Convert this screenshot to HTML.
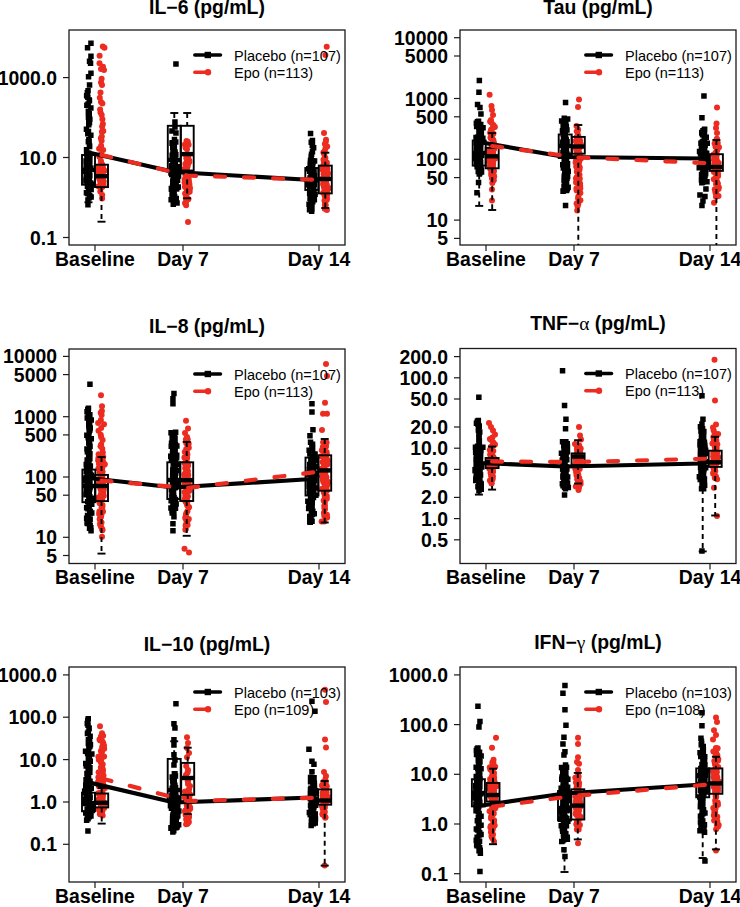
<!DOCTYPE html><html><head><meta charset="utf-8"><style>
html,body{margin:0;padding:0;background:#fff;width:740px;height:907px;overflow:hidden}
svg{display:block}
.ax{font-family:"Liberation Sans",sans-serif;font-weight:bold;font-size:19.4px;fill:#000}
.ti{font-family:"Liberation Sans",sans-serif;font-weight:bold;font-size:19.4px;fill:#000}
.sym{font-family:"Liberation Serif",serif;font-weight:normal}
.lg{font-family:"Liberation Sans",sans-serif;font-size:14.5px;fill:#000}
</style></head><body>
<svg width="740" height="907" viewBox="0 0 740 907">
<rect x="69" y="30" width="276" height="215" fill="none" stroke="#1a1a1a" stroke-width="1.3"/>
<line x1="63" y1="77.6" x2="69" y2="77.6" stroke="#1a1a1a" stroke-width="1.2"/>
<text class="ax" x="57" y="84.6" text-anchor="end">1000.0</text>
<line x1="63" y1="157.5" x2="69" y2="157.5" stroke="#1a1a1a" stroke-width="1.2"/>
<text class="ax" x="57" y="164.5" text-anchor="end">10.0</text>
<line x1="63" y1="237.5" x2="69" y2="237.5" stroke="#1a1a1a" stroke-width="1.2"/>
<text class="ax" x="57" y="244.5" text-anchor="end">0.1</text>
<line x1="95" y1="245" x2="95" y2="251" stroke="#1a1a1a" stroke-width="1.2"/>
<text class="ax" x="95" y="265.5" text-anchor="middle">Baseline</text>
<line x1="183" y1="245" x2="183" y2="251" stroke="#1a1a1a" stroke-width="1.2"/>
<text class="ax" x="183" y="265.5" text-anchor="middle">Day 7</text>
<line x1="319" y1="245" x2="319" y2="251" stroke="#1a1a1a" stroke-width="1.2"/>
<text class="ax" x="319" y="265.5" text-anchor="middle">Day 14</text>
<text class="ti" x="207" y="14" text-anchor="middle">IL−6 (pg/mL)</text>
<path fill="#000" d="M85.3 88.1h5.5v5.5h-5.5zM84.6 89.9h5.5v5.5h-5.5zM83.9 92.9h5.5v5.5h-5.5zM85.1 94.6h5.5v5.5h-5.5zM86.5 97.2h5.5v5.5h-5.5zM86.7 97.9h5.5v5.5h-5.5zM85.4 101.3h5.5v5.5h-5.5zM84.1 102.6h5.5v5.5h-5.5zM88.1 105.2h5.5v5.5h-5.5zM85.6 108.6h5.5v5.5h-5.5zM85.6 111.1h5.5v5.5h-5.5zM86.5 111h5.5v5.5h-5.5zM85.7 114.6h5.5v5.5h-5.5zM87.1 116.6h5.5v5.5h-5.5zM86 119.6h5.5v5.5h-5.5zM86.7 120h5.5v5.5h-5.5zM86 122.1h5.5v5.5h-5.5zM83.7 126.5h5.5v5.5h-5.5zM85.7 128.8h5.5v5.5h-5.5zM85 128.7h5.5v5.5h-5.5zM85.1 131.1h5.5v5.5h-5.5zM88.1 132.6h5.5v5.5h-5.5zM86.1 136.9h5.5v5.5h-5.5zM86.4 138.7h5.5v5.5h-5.5zM85.6 139h5.5v5.5h-5.5zM86.7 142.8h5.5v5.5h-5.5zM86.9 143.8h5.5v5.5h-5.5zM83.8 147h5.5v5.5h-5.5zM84.2 150.4h5.5v5.5h-5.5zM85.9 150.5h5.5v5.5h-5.5zM83.9 151.1h5.5v5.5h-5.5zM87.2 152.2h5.5v5.5h-5.5zM85.4 152.5h5.5v5.5h-5.5zM87.1 155.2h5.5v5.5h-5.5zM85.4 154.2h5.5v5.5h-5.5zM84.2 155h5.5v5.5h-5.5zM84.9 156.7h5.5v5.5h-5.5zM85.8 156.5h5.5v5.5h-5.5zM84.5 156.1h5.5v5.5h-5.5zM83.3 158.3h5.5v5.5h-5.5zM84.4 159.7h5.5v5.5h-5.5zM87.1 159.3h5.5v5.5h-5.5zM84.6 160.6h5.5v5.5h-5.5zM86.1 159.9h5.5v5.5h-5.5zM83.7 161.3h5.5v5.5h-5.5zM84.9 162.2h5.5v5.5h-5.5zM85.2 162.7h5.5v5.5h-5.5zM86.6 162h5.5v5.5h-5.5zM83.4 162.6h5.5v5.5h-5.5zM86.9 165.2h5.5v5.5h-5.5zM84.4 165.9h5.5v5.5h-5.5zM84.2 164.2h5.5v5.5h-5.5zM88.1 165.3h5.5v5.5h-5.5zM83.5 167.4h5.5v5.5h-5.5zM82.9 167.8h5.5v5.5h-5.5zM85.9 166.3h5.5v5.5h-5.5zM82.5 167.9h5.5v5.5h-5.5zM86.2 168.8h5.5v5.5h-5.5zM82.6 168.8h5.5v5.5h-5.5zM84.9 168.9h5.5v5.5h-5.5zM86.7 170.1h5.5v5.5h-5.5zM84.3 172.2h5.5v5.5h-5.5zM86 171.9h5.5v5.5h-5.5zM85.5 172.4h5.5v5.5h-5.5zM87.1 173h5.5v5.5h-5.5zM83.7 172.5h5.5v5.5h-5.5zM86.6 174.6h5.5v5.5h-5.5zM84.6 175.7h5.5v5.5h-5.5zM83.4 175.3h5.5v5.5h-5.5zM84.6 176.9h5.5v5.5h-5.5zM86 175.2h5.5v5.5h-5.5zM86.2 175.9h5.5v5.5h-5.5zM83.2 177.2h5.5v5.5h-5.5zM83.1 178.3h5.5v5.5h-5.5zM85.4 178.1h5.5v5.5h-5.5zM86.6 179.8h5.5v5.5h-5.5zM88.8 181.6h5.5v5.5h-5.5zM87.9 180.9h5.5v5.5h-5.5zM87.9 180.3h5.5v5.5h-5.5zM85.7 180.5h5.5v5.5h-5.5zM84.7 183.6h5.5v5.5h-5.5zM86.4 183.2h5.5v5.5h-5.5zM85.9 184.1h5.5v5.5h-5.5zM86.4 186.5h5.5v5.5h-5.5zM85.8 188.2h5.5v5.5h-5.5zM88.4 186.7h5.5v5.5h-5.5zM86 188.8h5.5v5.5h-5.5zM83.7 190.1h5.5v5.5h-5.5zM84.9 190.8h5.5v5.5h-5.5zM86.9 193.1h5.5v5.5h-5.5zM87.1 193.7h5.5v5.5h-5.5zM86.5 195h5.5v5.5h-5.5zM88.4 194.2h5.5v5.5h-5.5zM85.2 197.3h5.5v5.5h-5.5zM88.2 40.6h5.5v5.5h-5.5zM84.8 45.1h5.5v5.5h-5.5zM88.2 53.5h5.5v5.5h-5.5zM86.8 58.5h5.5v5.5h-5.5zM87.8 60.5h5.5v5.5h-5.5zM88.2 70.5h5.5v5.5h-5.5zM85.8 74h5.5v5.5h-5.5zM86.8 82.3h5.5v5.5h-5.5zM85.2 201.9h5.5v5.5h-5.5z"/>
<path fill="#000" d="M171.7 136.7h5.5v5.5h-5.5zM169.6 140.1h5.5v5.5h-5.5zM173 139.3h5.5v5.5h-5.5zM171.5 141.7h5.5v5.5h-5.5zM169.3 140.5h5.5v5.5h-5.5zM171.2 142.5h5.5v5.5h-5.5zM170 144.2h5.5v5.5h-5.5zM170 143.3h5.5v5.5h-5.5zM170.2 146.9h5.5v5.5h-5.5zM171.6 145.3h5.5v5.5h-5.5zM170.5 147.2h5.5v5.5h-5.5zM171.2 148.5h5.5v5.5h-5.5zM172.4 151h5.5v5.5h-5.5zM172.3 149.3h5.5v5.5h-5.5zM173.1 151.9h5.5v5.5h-5.5zM170.2 152.8h5.5v5.5h-5.5zM169.4 152.4h5.5v5.5h-5.5zM170.2 156.1h5.5v5.5h-5.5zM172.3 155.2h5.5v5.5h-5.5zM170.9 156.5h5.5v5.5h-5.5zM171.1 157.2h5.5v5.5h-5.5zM172.5 158.7h5.5v5.5h-5.5zM170.2 158.5h5.5v5.5h-5.5zM172.6 161.6h5.5v5.5h-5.5zM172.3 162.6h5.5v5.5h-5.5zM169.1 163.1h5.5v5.5h-5.5zM173.4 164.1h5.5v5.5h-5.5zM171.6 164.2h5.5v5.5h-5.5zM169.8 164.6h5.5v5.5h-5.5zM174.9 164h5.5v5.5h-5.5zM168.8 163.8h5.5v5.5h-5.5zM172.4 166h5.5v5.5h-5.5zM173 167.4h5.5v5.5h-5.5zM172.5 165.4h5.5v5.5h-5.5zM170.3 166.1h5.5v5.5h-5.5zM170.9 169h5.5v5.5h-5.5zM170.1 169.1h5.5v5.5h-5.5zM174.7 169.4h5.5v5.5h-5.5zM168.2 170.2h5.5v5.5h-5.5zM171.9 169.7h5.5v5.5h-5.5zM174.6 170.7h5.5v5.5h-5.5zM173.4 171.1h5.5v5.5h-5.5zM173.6 169.9h5.5v5.5h-5.5zM169 171.8h5.5v5.5h-5.5zM170.8 170.9h5.5v5.5h-5.5zM173.3 172h5.5v5.5h-5.5zM171.6 172.5h5.5v5.5h-5.5zM171 173.2h5.5v5.5h-5.5zM172.4 172.9h5.5v5.5h-5.5zM175.8 173.3h5.5v5.5h-5.5zM172.1 174.3h5.5v5.5h-5.5zM173 175.5h5.5v5.5h-5.5zM170.5 176.8h5.5v5.5h-5.5zM174.8 177.4h5.5v5.5h-5.5zM170.2 177.9h5.5v5.5h-5.5zM171.3 177.1h5.5v5.5h-5.5zM173.1 176.7h5.5v5.5h-5.5zM172.3 180h5.5v5.5h-5.5zM174.1 177.6h5.5v5.5h-5.5zM170 179.6h5.5v5.5h-5.5zM173.3 179.5h5.5v5.5h-5.5zM173.4 180h5.5v5.5h-5.5zM171.1 181.2h5.5v5.5h-5.5zM172.9 180.4h5.5v5.5h-5.5zM172.2 183.1h5.5v5.5h-5.5zM169.9 183.7h5.5v5.5h-5.5zM175.6 184.2h5.5v5.5h-5.5zM172.2 183.1h5.5v5.5h-5.5zM174.4 184.6h5.5v5.5h-5.5zM174 186h5.5v5.5h-5.5zM173.1 186.3h5.5v5.5h-5.5zM173.7 185.2h5.5v5.5h-5.5zM168.7 186.4h5.5v5.5h-5.5zM168.6 185.8h5.5v5.5h-5.5zM168.8 186.3h5.5v5.5h-5.5zM171.2 188.8h5.5v5.5h-5.5zM170.4 190.2h5.5v5.5h-5.5zM169.5 188.7h5.5v5.5h-5.5zM171.4 192h5.5v5.5h-5.5zM169.3 192.6h5.5v5.5h-5.5zM171.5 194.2h5.5v5.5h-5.5zM171.9 194h5.5v5.5h-5.5zM173.5 195.8h5.5v5.5h-5.5zM168.4 196.9h5.5v5.5h-5.5zM172.4 195.8h5.5v5.5h-5.5zM173.1 198.8h5.5v5.5h-5.5zM171.8 199.1h5.5v5.5h-5.5zM174.3 200.2h5.5v5.5h-5.5zM170.5 201.4h5.5v5.5h-5.5zM173.2 61.2h5.5v5.5h-5.5zM172.2 119.2h5.5v5.5h-5.5zM172.2 124.2h5.5v5.5h-5.5zM169.2 128.2h5.5v5.5h-5.5zM173.2 130.2h5.5v5.5h-5.5z"/>
<path fill="#000" d="M309.7 137.7h5.5v5.5h-5.5zM308.5 139.4h5.5v5.5h-5.5zM309.5 142.6h5.5v5.5h-5.5zM309.7 143h5.5v5.5h-5.5zM310.9 145h5.5v5.5h-5.5zM309.7 149.1h5.5v5.5h-5.5zM308.8 151.5h5.5v5.5h-5.5zM308.4 153.7h5.5v5.5h-5.5zM308.4 155.7h5.5v5.5h-5.5zM307.8 157.4h5.5v5.5h-5.5zM311.8 158.2h5.5v5.5h-5.5zM308.6 158.6h5.5v5.5h-5.5zM310.1 158.1h5.5v5.5h-5.5zM307.9 160.7h5.5v5.5h-5.5zM310.2 159.9h5.5v5.5h-5.5zM307.6 159.5h5.5v5.5h-5.5zM307.4 162.5h5.5v5.5h-5.5zM307.9 160.6h5.5v5.5h-5.5zM307.5 161.5h5.5v5.5h-5.5zM309.7 162.8h5.5v5.5h-5.5zM308.9 162.4h5.5v5.5h-5.5zM309 164.8h5.5v5.5h-5.5zM309.8 164.4h5.5v5.5h-5.5zM309.4 165.8h5.5v5.5h-5.5zM309.8 166h5.5v5.5h-5.5zM306 166.1h5.5v5.5h-5.5zM307.9 166.8h5.5v5.5h-5.5zM309.4 166.5h5.5v5.5h-5.5zM306.8 168.5h5.5v5.5h-5.5zM309.2 169.1h5.5v5.5h-5.5zM311.3 167.8h5.5v5.5h-5.5zM309.8 170.6h5.5v5.5h-5.5zM311.1 171.7h5.5v5.5h-5.5zM310.8 172.3h5.5v5.5h-5.5zM309.4 170.2h5.5v5.5h-5.5zM309.5 170.7h5.5v5.5h-5.5zM311.6 173.1h5.5v5.5h-5.5zM308.2 172.3h5.5v5.5h-5.5zM310 175h5.5v5.5h-5.5zM308.5 173.1h5.5v5.5h-5.5zM310.3 176.1h5.5v5.5h-5.5zM307.5 175.8h5.5v5.5h-5.5zM307.3 175.2h5.5v5.5h-5.5zM308.5 177.2h5.5v5.5h-5.5zM312.4 176.9h5.5v5.5h-5.5zM307 179.4h5.5v5.5h-5.5zM309.8 177.5h5.5v5.5h-5.5zM309.7 178.1h5.5v5.5h-5.5zM307.4 179.9h5.5v5.5h-5.5zM310.3 179.9h5.5v5.5h-5.5zM305.8 181.9h5.5v5.5h-5.5zM309.2 181.3h5.5v5.5h-5.5zM311.5 181.4h5.5v5.5h-5.5zM308.6 183.1h5.5v5.5h-5.5zM310.8 183.5h5.5v5.5h-5.5zM309.9 184h5.5v5.5h-5.5zM310 185.7h5.5v5.5h-5.5zM308.6 184.1h5.5v5.5h-5.5zM307.9 186.9h5.5v5.5h-5.5zM308.9 186.3h5.5v5.5h-5.5zM311.1 186.3h5.5v5.5h-5.5zM310.5 188.1h5.5v5.5h-5.5zM307 186.8h5.5v5.5h-5.5zM308.3 189.3h5.5v5.5h-5.5zM307.8 190.3h5.5v5.5h-5.5zM309.2 190.8h5.5v5.5h-5.5zM310 191.2h5.5v5.5h-5.5zM306.9 190.4h5.5v5.5h-5.5zM308.1 192.2h5.5v5.5h-5.5zM312.4 191.6h5.5v5.5h-5.5zM307.6 192h5.5v5.5h-5.5zM309.4 194.1h5.5v5.5h-5.5zM309.6 192.7h5.5v5.5h-5.5zM310.2 195.5h5.5v5.5h-5.5zM308.6 193.8h5.5v5.5h-5.5zM307.3 195.4h5.5v5.5h-5.5zM310.2 195.2h5.5v5.5h-5.5zM308.2 197.1h5.5v5.5h-5.5zM311.6 197h5.5v5.5h-5.5zM310 199h5.5v5.5h-5.5zM309.8 197.7h5.5v5.5h-5.5zM308.1 200.5h5.5v5.5h-5.5zM308.9 199.2h5.5v5.5h-5.5zM309 199.9h5.5v5.5h-5.5zM308.2 201.4h5.5v5.5h-5.5zM306.3 201.5h5.5v5.5h-5.5zM309.2 202.4h5.5v5.5h-5.5zM308.8 203.2h5.5v5.5h-5.5zM307 203.2h5.5v5.5h-5.5zM309.2 206.2h5.5v5.5h-5.5zM308.6 204.8h5.5v5.5h-5.5zM307.7 206.4h5.5v5.5h-5.5zM307 206.7h5.5v5.5h-5.5zM306.8 207.1h5.5v5.5h-5.5zM308.9 208.5h5.5v5.5h-5.5zM307.8 130.8h5.5v5.5h-5.5z"/>
<g fill="#EC2C20"><circle cx="100.5" cy="92.4" r="3"/><circle cx="99.8" cy="97.7" r="3"/><circle cx="101" cy="102" r="3"/><circle cx="102.4" cy="103.4" r="3"/><circle cx="100.1" cy="109.4" r="3"/><circle cx="100.5" cy="112.5" r="3"/><circle cx="101.7" cy="115" r="3"/><circle cx="102.4" cy="119.2" r="3"/><circle cx="102.9" cy="124.1" r="3"/><circle cx="102.1" cy="126.5" r="3"/><circle cx="103.3" cy="131" r="3"/><circle cx="101.9" cy="131.7" r="3"/><circle cx="101.8" cy="136.5" r="3"/><circle cx="100.9" cy="138.3" r="3"/><circle cx="101.6" cy="140.7" r="3"/><circle cx="101.1" cy="145.7" r="3"/><circle cx="99.1" cy="148.8" r="3"/><circle cx="103.2" cy="150.1" r="3"/><circle cx="101.3" cy="153.9" r="3"/><circle cx="99.4" cy="156.8" r="3"/><circle cx="100.9" cy="160.7" r="3"/><circle cx="101.2" cy="163.1" r="3"/><circle cx="102.4" cy="164.8" r="3"/><circle cx="101.3" cy="166.8" r="3"/><circle cx="100.7" cy="165.9" r="3"/><circle cx="102.2" cy="165.6" r="3"/><circle cx="102.6" cy="166.8" r="3"/><circle cx="102.2" cy="167.5" r="3"/><circle cx="98.9" cy="166.4" r="3"/><circle cx="103" cy="168.6" r="3"/><circle cx="98.7" cy="169.2" r="3"/><circle cx="99.2" cy="169.3" r="3"/><circle cx="102.4" cy="169.5" r="3"/><circle cx="102.5" cy="170.9" r="3"/><circle cx="98.5" cy="169.4" r="3"/><circle cx="101.1" cy="170.2" r="3"/><circle cx="102.7" cy="169.6" r="3"/><circle cx="99.2" cy="171.2" r="3"/><circle cx="104.2" cy="170.9" r="3"/><circle cx="104.4" cy="170.6" r="3"/><circle cx="102.2" cy="173.3" r="3"/><circle cx="98.7" cy="173.7" r="3"/><circle cx="100.1" cy="172.8" r="3"/><circle cx="102.2" cy="175" r="3"/><circle cx="101" cy="174" r="3"/><circle cx="100.9" cy="175.1" r="3"/><circle cx="102.4" cy="174.4" r="3"/><circle cx="99.9" cy="174.3" r="3"/><circle cx="100.2" cy="174.3" r="3"/><circle cx="100.4" cy="176.2" r="3"/><circle cx="101.7" cy="175" r="3"/><circle cx="102.3" cy="175.7" r="3"/><circle cx="102.2" cy="177.5" r="3"/><circle cx="101.1" cy="178.2" r="3"/><circle cx="99.1" cy="177.7" r="3"/><circle cx="100.8" cy="179.7" r="3"/><circle cx="101" cy="179.7" r="3"/><circle cx="102.2" cy="179.5" r="3"/><circle cx="102.1" cy="181" r="3"/><circle cx="99.4" cy="178.9" r="3"/><circle cx="103.4" cy="180.5" r="3"/><circle cx="100.5" cy="181.2" r="3"/><circle cx="102.7" cy="182.1" r="3"/><circle cx="102.8" cy="181.8" r="3"/><circle cx="100.4" cy="181.3" r="3"/><circle cx="103.6" cy="181.8" r="3"/><circle cx="101.3" cy="183.1" r="3"/><circle cx="101.7" cy="182" r="3"/><circle cx="103.2" cy="183.2" r="3"/><circle cx="101.6" cy="185.2" r="3"/><circle cx="103.6" cy="185.3" r="3"/><circle cx="100.7" cy="183.9" r="3"/><circle cx="98.5" cy="186.2" r="3"/><circle cx="102.1" cy="186.9" r="3"/><circle cx="102" cy="187" r="3"/><circle cx="100.9" cy="184.9" r="3"/><circle cx="100.4" cy="187.2" r="3"/><circle cx="100.4" cy="187.4" r="3"/><circle cx="100.3" cy="191.5" r="3"/><circle cx="102.2" cy="195" r="3"/><circle cx="102.1" cy="198.4" r="3"/><circle cx="102.8" cy="46.4" r="3"/><circle cx="104.5" cy="47.8" r="3"/><circle cx="99.6" cy="55.8" r="3"/><circle cx="99.5" cy="63.3" r="3"/><circle cx="103" cy="66.8" r="3"/><circle cx="101" cy="69" r="3"/><circle cx="104" cy="69.9" r="3"/><circle cx="101.6" cy="78.7" r="3"/><circle cx="101" cy="82.6" r="3"/><circle cx="102" cy="85" r="3"/></g>
<g fill="#EC2C20"><circle cx="186.5" cy="141" r="3"/><circle cx="187.8" cy="141.8" r="3"/><circle cx="187" cy="143.1" r="3"/><circle cx="188.6" cy="144.7" r="3"/><circle cx="184.9" cy="144.6" r="3"/><circle cx="185.7" cy="147.4" r="3"/><circle cx="185.7" cy="147.7" r="3"/><circle cx="187" cy="149.2" r="3"/><circle cx="187.3" cy="154.2" r="3"/><circle cx="185.9" cy="154.9" r="3"/><circle cx="186.4" cy="158.4" r="3"/><circle cx="188.2" cy="157" r="3"/><circle cx="189.2" cy="160.4" r="3"/><circle cx="186.8" cy="158.6" r="3"/><circle cx="189.3" cy="162.1" r="3"/><circle cx="186.7" cy="162.2" r="3"/><circle cx="185.3" cy="163.9" r="3"/><circle cx="187.4" cy="163" r="3"/><circle cx="187.9" cy="164.3" r="3"/><circle cx="187.6" cy="166.6" r="3"/><circle cx="184.2" cy="169" r="3"/><circle cx="186.6" cy="171.7" r="3"/><circle cx="187" cy="170.2" r="3"/><circle cx="188.8" cy="172.8" r="3"/><circle cx="184.9" cy="171.7" r="3"/><circle cx="186.2" cy="174.9" r="3"/><circle cx="187.3" cy="174.2" r="3"/><circle cx="188.5" cy="173.9" r="3"/><circle cx="185.5" cy="175.5" r="3"/><circle cx="187.4" cy="177.4" r="3"/><circle cx="188.5" cy="177.7" r="3"/><circle cx="186.9" cy="179.1" r="3"/><circle cx="185.4" cy="179.4" r="3"/><circle cx="187" cy="178.3" r="3"/><circle cx="188.8" cy="180.3" r="3"/><circle cx="184.7" cy="179.6" r="3"/><circle cx="185.5" cy="181.9" r="3"/><circle cx="185.8" cy="181.1" r="3"/><circle cx="184.6" cy="182.6" r="3"/><circle cx="187.6" cy="184" r="3"/><circle cx="189.2" cy="182.9" r="3"/><circle cx="187.5" cy="185.2" r="3"/><circle cx="188.1" cy="184.6" r="3"/><circle cx="189.3" cy="184.2" r="3"/><circle cx="185.2" cy="186.3" r="3"/><circle cx="189.4" cy="186.1" r="3"/><circle cx="185" cy="187.1" r="3"/><circle cx="190" cy="188.2" r="3"/><circle cx="187.2" cy="190.3" r="3"/><circle cx="187" cy="190.9" r="3"/><circle cx="189.7" cy="191.7" r="3"/><circle cx="188" cy="191.9" r="3"/><circle cx="185.1" cy="193.4" r="3"/><circle cx="187.2" cy="192.9" r="3"/><circle cx="186.4" cy="194.5" r="3"/><circle cx="185.8" cy="197.9" r="3"/><circle cx="188" cy="199.1" r="3"/><circle cx="186.5" cy="200.6" r="3"/><circle cx="188.3" cy="199.3" r="3"/><circle cx="185.2" cy="203.2" r="3"/><circle cx="185.3" cy="202.9" r="3"/><circle cx="186.1" cy="205.3" r="3"/><circle cx="188" cy="222" r="3"/></g>
<g fill="#EC2C20"><circle cx="326" cy="139.8" r="3"/><circle cx="325.8" cy="141.7" r="3"/><circle cx="324.9" cy="143.9" r="3"/><circle cx="327.2" cy="146.6" r="3"/><circle cx="325.4" cy="148.5" r="3"/><circle cx="324.5" cy="151.4" r="3"/><circle cx="324.5" cy="151.5" r="3"/><circle cx="323.4" cy="152.5" r="3"/><circle cx="324.3" cy="154.6" r="3"/><circle cx="325.4" cy="158" r="3"/><circle cx="323.9" cy="159.5" r="3"/><circle cx="323.5" cy="159.7" r="3"/><circle cx="326.8" cy="162.6" r="3"/><circle cx="324" cy="162.6" r="3"/><circle cx="326.3" cy="163.5" r="3"/><circle cx="326.5" cy="166.4" r="3"/><circle cx="324.4" cy="167" r="3"/><circle cx="323.5" cy="165.1" r="3"/><circle cx="322.6" cy="167.4" r="3"/><circle cx="327.1" cy="168.2" r="3"/><circle cx="327.2" cy="169.3" r="3"/><circle cx="325.3" cy="168" r="3"/><circle cx="325.1" cy="168.9" r="3"/><circle cx="322.5" cy="169.8" r="3"/><circle cx="325.6" cy="171.1" r="3"/><circle cx="325.7" cy="169.7" r="3"/><circle cx="326.9" cy="171.3" r="3"/><circle cx="324.9" cy="170.8" r="3"/><circle cx="327.9" cy="173.1" r="3"/><circle cx="323.5" cy="174.1" r="3"/><circle cx="327.5" cy="172.9" r="3"/><circle cx="324.2" cy="174.5" r="3"/><circle cx="325.3" cy="175.8" r="3"/><circle cx="324.4" cy="174.1" r="3"/><circle cx="324.8" cy="177" r="3"/><circle cx="327.6" cy="175.1" r="3"/><circle cx="325.3" cy="176.4" r="3"/><circle cx="325.1" cy="176.2" r="3"/><circle cx="322.5" cy="178.8" r="3"/><circle cx="324.5" cy="178.2" r="3"/><circle cx="323.5" cy="178.2" r="3"/><circle cx="323.8" cy="178.5" r="3"/><circle cx="323.1" cy="180.5" r="3"/><circle cx="326.3" cy="179.5" r="3"/><circle cx="324.1" cy="180.6" r="3"/><circle cx="325.3" cy="182" r="3"/><circle cx="325.9" cy="182.5" r="3"/><circle cx="323.1" cy="184" r="3"/><circle cx="325.8" cy="184.6" r="3"/><circle cx="323.7" cy="184.1" r="3"/><circle cx="326.7" cy="184.4" r="3"/><circle cx="326.2" cy="186.5" r="3"/><circle cx="324.3" cy="186.2" r="3"/><circle cx="323.7" cy="186.1" r="3"/><circle cx="328.5" cy="188.4" r="3"/><circle cx="324.1" cy="187.8" r="3"/><circle cx="328.1" cy="187.6" r="3"/><circle cx="325.3" cy="189.7" r="3"/><circle cx="327.4" cy="190.1" r="3"/><circle cx="326.8" cy="191.3" r="3"/><circle cx="326.6" cy="190.8" r="3"/><circle cx="325.7" cy="190.9" r="3"/><circle cx="325" cy="193" r="3"/><circle cx="323.2" cy="192.7" r="3"/><circle cx="326.6" cy="191.6" r="3"/><circle cx="325.3" cy="192.8" r="3"/><circle cx="325.3" cy="193.7" r="3"/><circle cx="327.1" cy="194.4" r="3"/><circle cx="324.6" cy="195.5" r="3"/><circle cx="325.3" cy="198.4" r="3"/><circle cx="326.9" cy="197.7" r="3"/><circle cx="326.9" cy="199.8" r="3"/><circle cx="324.5" cy="200.7" r="3"/><circle cx="325.4" cy="202.1" r="3"/><circle cx="325.4" cy="204.4" r="3"/><circle cx="325" cy="203.8" r="3"/><circle cx="325.1" cy="205.6" r="3"/><circle cx="325.6" cy="205.6" r="3"/><circle cx="324.7" cy="208.7" r="3"/><circle cx="326.9" cy="210.1" r="3"/><circle cx="326.7" cy="46.8" r="3"/><circle cx="325.4" cy="54.9" r="3"/><circle cx="324" cy="133" r="3"/></g>
<rect x="82" y="155" width="13" height="29.7" fill="none" stroke="#000" stroke-width="1.9"/>
<line x1="82" y1="170" x2="95" y2="170" stroke="#000" stroke-width="4.4"/>
<line x1="88.5" y1="184.7" x2="88.5" y2="202.3" stroke="#000" stroke-width="1.9" stroke-dasharray="5 4"/>
<line x1="84.5" y1="202.3" x2="92.5" y2="202.3" stroke="#000" stroke-width="1.9"/>
<rect x="95" y="164.7" width="13" height="22.4" fill="none" stroke="#000" stroke-width="1.9"/>
<line x1="95" y1="176.2" x2="108" y2="176.2" stroke="#000" stroke-width="4.4"/>
<line x1="101.5" y1="187.1" x2="101.5" y2="221.7" stroke="#000" stroke-width="1.9" stroke-dasharray="5 4"/>
<line x1="97.5" y1="221.7" x2="105.5" y2="221.7" stroke="#000" stroke-width="1.9"/>
<rect x="167.8" y="125.8" width="13" height="46.2" fill="none" stroke="#000" stroke-width="1.9"/>
<line x1="167.8" y1="160" x2="180.8" y2="160" stroke="#000" stroke-width="4.4"/>
<line x1="174.3" y1="113" x2="174.3" y2="125.8" stroke="#000" stroke-width="1.9" stroke-dasharray="5 4"/>
<line x1="170.3" y1="113" x2="178.3" y2="113" stroke="#000" stroke-width="1.9"/>
<rect x="180.7" y="125.8" width="13" height="44.7" fill="none" stroke="#000" stroke-width="1.9"/>
<line x1="180.7" y1="154.1" x2="193.7" y2="154.1" stroke="#000" stroke-width="4.4"/>
<line x1="187.2" y1="113" x2="187.2" y2="125.8" stroke="#000" stroke-width="1.9" stroke-dasharray="5 4"/>
<line x1="183.2" y1="113" x2="191.2" y2="113" stroke="#000" stroke-width="1.9"/>
<line x1="187.2" y1="170.5" x2="187.2" y2="198.3" stroke="#000" stroke-width="1.9" stroke-dasharray="5 4"/>
<line x1="183.2" y1="198.3" x2="191.2" y2="198.3" stroke="#000" stroke-width="1.9"/>
<rect x="305.3" y="168" width="13" height="22" fill="none" stroke="#000" stroke-width="1.9"/>
<line x1="305.3" y1="180" x2="318.3" y2="180" stroke="#000" stroke-width="4.4"/>
<rect x="318.8" y="165.6" width="13" height="27.8" fill="none" stroke="#000" stroke-width="1.9"/>
<line x1="318.8" y1="179" x2="331.8" y2="179" stroke="#000" stroke-width="4.4"/>
<line x1="325.3" y1="152.7" x2="325.3" y2="165.6" stroke="#000" stroke-width="1.9" stroke-dasharray="5 4"/>
<line x1="321.3" y1="152.7" x2="329.3" y2="152.7" stroke="#000" stroke-width="1.9"/>
<line x1="325.3" y1="193.4" x2="325.3" y2="208" stroke="#000" stroke-width="1.9" stroke-dasharray="5 4"/>
<line x1="321.3" y1="208" x2="329.3" y2="208" stroke="#000" stroke-width="1.9"/>
<polyline points="88.5,152.5 174.3,172 311.8,180" fill="none" stroke="#000" stroke-width="4.2" stroke-linejoin="round"/>
<polyline points="101.5,155 187.2,175.5 325.3,180" fill="none" stroke="#EC2C20" stroke-width="4.2" stroke-linecap="round" stroke-dasharray="10 19"/>
<line x1="194.8" y1="55" x2="220.5" y2="55" stroke="#000" stroke-width="3.5" stroke-linecap="round"/>
<rect x="204.6" y="51.8" width="6.4" height="6.4" fill="#000"/>
<line x1="194.8" y1="72.3" x2="208" y2="72.3" stroke="#EC2C20" stroke-width="3.5" stroke-linecap="round"/>
<circle cx="208" cy="72.3" r="3.2" fill="#EC2C20"/>
<text class="lg" x="234" y="60.8">Placebo (n=107)</text>
<text class="lg" x="234" y="77.9">Epo (n=113)</text>
<rect x="460" y="30" width="276" height="215" fill="none" stroke="#1a1a1a" stroke-width="1.3"/>
<line x1="454" y1="37.7" x2="460" y2="37.7" stroke="#1a1a1a" stroke-width="1.2"/>
<text class="ax" x="448" y="44.7" text-anchor="end">10000</text>
<line x1="454" y1="56" x2="460" y2="56" stroke="#1a1a1a" stroke-width="1.2"/>
<text class="ax" x="448" y="63" text-anchor="end">5000</text>
<line x1="454" y1="98.5" x2="460" y2="98.5" stroke="#1a1a1a" stroke-width="1.2"/>
<text class="ax" x="448" y="105.5" text-anchor="end">1000</text>
<line x1="454" y1="116.8" x2="460" y2="116.8" stroke="#1a1a1a" stroke-width="1.2"/>
<text class="ax" x="448" y="123.8" text-anchor="end">500</text>
<line x1="454" y1="159.3" x2="460" y2="159.3" stroke="#1a1a1a" stroke-width="1.2"/>
<text class="ax" x="448" y="166.3" text-anchor="end">100</text>
<line x1="454" y1="177.6" x2="460" y2="177.6" stroke="#1a1a1a" stroke-width="1.2"/>
<text class="ax" x="448" y="184.6" text-anchor="end">50</text>
<line x1="454" y1="220.1" x2="460" y2="220.1" stroke="#1a1a1a" stroke-width="1.2"/>
<text class="ax" x="448" y="227.1" text-anchor="end">10</text>
<line x1="454" y1="238.4" x2="460" y2="238.4" stroke="#1a1a1a" stroke-width="1.2"/>
<text class="ax" x="448" y="245.4" text-anchor="end">5</text>
<line x1="486" y1="245" x2="486" y2="251" stroke="#1a1a1a" stroke-width="1.2"/>
<text class="ax" x="486" y="265.5" text-anchor="middle">Baseline</text>
<line x1="574" y1="245" x2="574" y2="251" stroke="#1a1a1a" stroke-width="1.2"/>
<text class="ax" x="574" y="265.5" text-anchor="middle">Day 7</text>
<line x1="710" y1="245" x2="710" y2="251" stroke="#1a1a1a" stroke-width="1.2"/>
<text class="ax" x="710" y="265.5" text-anchor="middle">Day 14</text>
<text class="ti" x="598" y="13.8" text-anchor="middle">Tau (pg/mL)</text>
<path fill="#000" d="M475.8 118.4h5.5v5.5h-5.5zM474.7 118.9h5.5v5.5h-5.5zM473.6 120.6h5.5v5.5h-5.5zM475.4 121.1h5.5v5.5h-5.5zM477.7 122.3h5.5v5.5h-5.5zM478 121.8h5.5v5.5h-5.5zM475.9 123.9h5.5v5.5h-5.5zM473.9 123.8h5.5v5.5h-5.5zM480.3 125.1h5.5v5.5h-5.5zM476.2 127.2h5.5v5.5h-5.5zM476.2 128.4h5.5v5.5h-5.5zM477.7 127h5.5v5.5h-5.5zM476.3 129.3h5.5v5.5h-5.5zM478.6 130h5.5v5.5h-5.5zM476.9 131.7h5.5v5.5h-5.5zM477.9 130.8h5.5v5.5h-5.5zM476.9 131.6h5.5v5.5h-5.5zM473.3 134.7h5.5v5.5h-5.5zM476.4 135.7h5.5v5.5h-5.5zM475.2 134.3h5.5v5.5h-5.5zM475.5 135.4h5.5v5.5h-5.5zM480.1 135.6h5.5v5.5h-5.5zM477 138.4h5.5v5.5h-5.5zM477.4 138.6h5.5v5.5h-5.5zM476.3 137.2h5.5v5.5h-5.5zM478 139.4h5.5v5.5h-5.5zM478.3 138.7h5.5v5.5h-5.5zM473.4 140.3h5.5v5.5h-5.5zM474 142h5.5v5.5h-5.5zM476.7 140.5h5.5v5.5h-5.5zM474.4 140.2h5.5v5.5h-5.5zM478.1 141.2h5.5v5.5h-5.5zM476.1 141.5h5.5v5.5h-5.5zM477.9 144.1h5.5v5.5h-5.5zM476.1 143h5.5v5.5h-5.5zM474.7 143.8h5.5v5.5h-5.5zM475.5 145.3h5.5v5.5h-5.5zM476.5 145h5.5v5.5h-5.5zM475.1 144.5h5.5v5.5h-5.5zM473.8 146.7h5.5v5.5h-5.5zM474.9 148.1h5.5v5.5h-5.5zM477.9 147.5h5.5v5.5h-5.5zM475.2 148.8h5.5v5.5h-5.5zM476.8 148h5.5v5.5h-5.5zM474.2 149.3h5.5v5.5h-5.5zM475.6 150.1h5.5v5.5h-5.5zM475.9 150.5h5.5v5.5h-5.5zM477.3 149.8h5.5v5.5h-5.5zM473.9 150.3h5.5v5.5h-5.5zM477.7 152.8h5.5v5.5h-5.5zM475 153.4h5.5v5.5h-5.5zM474.8 151.7h5.5v5.5h-5.5zM479 152.7h5.5v5.5h-5.5zM473.9 154.7h5.5v5.5h-5.5zM473.4 155h5.5v5.5h-5.5zM476.7 153.4h5.5v5.5h-5.5zM472.9 155h5.5v5.5h-5.5zM477 155.8h5.5v5.5h-5.5zM473 155.7h5.5v5.5h-5.5zM475.5 155.7h5.5v5.5h-5.5zM477.5 156.8h5.5v5.5h-5.5zM474.9 158.9h5.5v5.5h-5.5zM476.7 158.5h5.5v5.5h-5.5zM476.2 158.9h5.5v5.5h-5.5zM477.9 159.4h5.5v5.5h-5.5zM474.2 158.9h5.5v5.5h-5.5zM477.3 160.9h5.5v5.5h-5.5zM475.1 161.9h5.5v5.5h-5.5zM473.9 161.3h5.5v5.5h-5.5zM475.2 162.9h5.5v5.5h-5.5zM476.7 161.1h5.5v5.5h-5.5zM476.9 161.8h5.5v5.5h-5.5zM474.5 163h5.5v5.5h-5.5zM474.4 164.1h5.5v5.5h-5.5zM476.2 163.8h5.5v5.5h-5.5zM477.1 165.5h5.5v5.5h-5.5zM478.8 167.2h5.5v5.5h-5.5zM478.1 166.5h5.5v5.5h-5.5zM478.1 165.8h5.5v5.5h-5.5zM476.4 165.9h5.5v5.5h-5.5zM475.5 168.8h5.5v5.5h-5.5zM477.1 167.8h5.5v5.5h-5.5zM476.6 168.2h5.5v5.5h-5.5zM477.1 170.1h5.5v5.5h-5.5zM476.5 171.3h5.5v5.5h-5.5zM478.8 169.3h5.5v5.5h-5.5zM476.7 170.9h5.5v5.5h-5.5zM476.6 77.7h5.5v5.5h-5.5zM476.2 89.5h5.5v5.5h-5.5zM474.8 101.8h5.5v5.5h-5.5zM477.2 104.8h5.5v5.5h-5.5zM478.2 111.2h5.5v5.5h-5.5zM475.8 179.7h5.5v5.5h-5.5zM474.2 189.9h5.5v5.5h-5.5z"/>
<path fill="#000" d="M564.9 116.3h5.5v5.5h-5.5zM561.5 115.5h5.5v5.5h-5.5zM558.9 118.3h5.5v5.5h-5.5zM563.1 119.6h5.5v5.5h-5.5zM563 120.2h5.5v5.5h-5.5zM561.8 118.7h5.5v5.5h-5.5zM561.1 121.5h5.5v5.5h-5.5zM560.5 120.8h5.5v5.5h-5.5zM560.4 122.6h5.5v5.5h-5.5zM563.6 123.8h5.5v5.5h-5.5zM563.5 124.9h5.5v5.5h-5.5zM562.6 124.7h5.5v5.5h-5.5zM560.1 128h5.5v5.5h-5.5zM564.2 127.2h5.5v5.5h-5.5zM562.4 129.5h5.5v5.5h-5.5zM559.7 128.2h5.5v5.5h-5.5zM562 130.2h5.5v5.5h-5.5zM560.5 131.8h5.5v5.5h-5.5zM560.5 130.9h5.5v5.5h-5.5zM560.8 134.5h5.5v5.5h-5.5zM562.5 132.8h5.5v5.5h-5.5zM561.1 134.7h5.5v5.5h-5.5zM562 135.8h5.5v5.5h-5.5zM563.5 138.3h5.5v5.5h-5.5zM563.4 136.5h5.5v5.5h-5.5zM564.3 139.1h5.5v5.5h-5.5zM560.7 139.9h5.5v5.5h-5.5zM559.7 139.4h5.5v5.5h-5.5zM560.8 143.1h5.5v5.5h-5.5zM563.4 142.1h5.5v5.5h-5.5zM561.7 143.4h5.5v5.5h-5.5zM561.9 144h5.5v5.5h-5.5zM563.7 145.5h5.5v5.5h-5.5zM560.8 145.2h5.5v5.5h-5.5zM563.7 148.2h5.5v5.5h-5.5zM563.3 149.2h5.5v5.5h-5.5zM560.2 149.8h5.5v5.5h-5.5zM564.1 151.3h5.5v5.5h-5.5zM562.5 151.8h5.5v5.5h-5.5zM560.8 152.6h5.5v5.5h-5.5zM565.5 152.5h5.5v5.5h-5.5zM559.9 152.8h5.5v5.5h-5.5zM563.2 155.4h5.5v5.5h-5.5zM563.8 157.2h5.5v5.5h-5.5zM563.3 155.7h5.5v5.5h-5.5zM561.5 156.7h5.5v5.5h-5.5zM562 159.9h5.5v5.5h-5.5zM561.4 160.4h5.5v5.5h-5.5zM564.8 161h5.5v5.5h-5.5zM560 162h5.5v5.5h-5.5zM562.7 161.9h5.5v5.5h-5.5zM564.7 163.2h5.5v5.5h-5.5zM563.8 163.9h5.5v5.5h-5.5zM563.9 163h5.5v5.5h-5.5zM560.6 165.2h5.5v5.5h-5.5zM561.9 164.6h5.5v5.5h-5.5zM563.8 165.9h5.5v5.5h-5.5zM562.5 166.7h5.5v5.5h-5.5zM562 167.7h5.5v5.5h-5.5zM563.1 167.7h5.5v5.5h-5.5zM565.5 168.5h5.5v5.5h-5.5zM562.8 169.8h5.5v5.5h-5.5zM563.5 171.3h5.5v5.5h-5.5zM561.7 172.8h5.5v5.5h-5.5zM564.9 173.8h5.5v5.5h-5.5zM561.4 174.5h5.5v5.5h-5.5zM562.3 174h5.5v5.5h-5.5zM563.6 173.9h5.5v5.5h-5.5zM563 177.5h5.5v5.5h-5.5zM564.3 175.4h5.5v5.5h-5.5zM561.3 177.7h5.5v5.5h-5.5zM563.7 177.9h5.5v5.5h-5.5zM563.8 178.7h5.5v5.5h-5.5zM562.1 180.2h5.5v5.5h-5.5zM563.4 179.8h5.5v5.5h-5.5zM562.9 182.8h5.5v5.5h-5.5zM561.3 183.7h5.5v5.5h-5.5zM565.4 184.4h5.5v5.5h-5.5zM562.9 183.6h5.5v5.5h-5.5zM564.6 185.5h5.5v5.5h-5.5zM564.2 187.1h5.5v5.5h-5.5zM563.6 187.7h5.5v5.5h-5.5zM564.1 187h5.5v5.5h-5.5zM560.4 188.5h5.5v5.5h-5.5zM560.3 188.2h5.5v5.5h-5.5zM562.8 99.8h5.5v5.5h-5.5zM562.8 202.8h5.5v5.5h-5.5z"/>
<path fill="#000" d="M701.6 126.9h5.5v5.5h-5.5zM700.2 128.1h5.5v5.5h-5.5zM701.9 126.6h5.5v5.5h-5.5zM699 130.2h5.5v5.5h-5.5zM699.1 129.7h5.5v5.5h-5.5zM699.8 131.8h5.5v5.5h-5.5zM701.7 131.3h5.5v5.5h-5.5zM700.1 131.9h5.5v5.5h-5.5zM701.5 134.1h5.5v5.5h-5.5zM701.8 133.6h5.5v5.5h-5.5zM703.5 134.5h5.5v5.5h-5.5zM701.8 137.6h5.5v5.5h-5.5zM700.3 138.8h5.5v5.5h-5.5zM699.4 139.6h5.5v5.5h-5.5zM699.4 140.2h5.5v5.5h-5.5zM698.2 140.5h5.5v5.5h-5.5zM704.5 140.6h5.5v5.5h-5.5zM700.2 141h5.5v5.5h-5.5zM702.3 140.5h5.5v5.5h-5.5zM699.3 143.2h5.5v5.5h-5.5zM702.4 142.4h5.5v5.5h-5.5zM698.9 142h5.5v5.5h-5.5zM698.7 145h5.5v5.5h-5.5zM699.3 143.2h5.5v5.5h-5.5zM698.7 144h5.5v5.5h-5.5zM701.7 145.3h5.5v5.5h-5.5zM700.6 145h5.5v5.5h-5.5zM700.8 147.4h5.5v5.5h-5.5zM701.9 147h5.5v5.5h-5.5zM701.3 148.4h5.5v5.5h-5.5zM701.8 148.6h5.5v5.5h-5.5zM696.8 148.8h5.5v5.5h-5.5zM699.3 149.5h5.5v5.5h-5.5zM701.3 149.2h5.5v5.5h-5.5zM697.8 151.2h5.5v5.5h-5.5zM701 151.8h5.5v5.5h-5.5zM703.9 150.6h5.5v5.5h-5.5zM701.9 153.4h5.5v5.5h-5.5zM703.6 154.5h5.5v5.5h-5.5zM703.2 155.1h5.5v5.5h-5.5zM701.3 153h5.5v5.5h-5.5zM701.5 153.5h5.5v5.5h-5.5zM704.2 155.9h5.5v5.5h-5.5zM699.7 155.2h5.5v5.5h-5.5zM702.2 157.9h5.5v5.5h-5.5zM700.1 156h5.5v5.5h-5.5zM702.5 159h5.5v5.5h-5.5zM698.8 158.7h5.5v5.5h-5.5zM698.5 158.1h5.5v5.5h-5.5zM700.1 160.2h5.5v5.5h-5.5zM705.3 159.9h5.5v5.5h-5.5zM698.1 162.4h5.5v5.5h-5.5zM701.9 160.5h5.5v5.5h-5.5zM701.7 161.1h5.5v5.5h-5.5zM698.6 162.9h5.5v5.5h-5.5zM702.5 163h5.5v5.5h-5.5zM696.5 165h5.5v5.5h-5.5zM701.1 164.3h5.5v5.5h-5.5zM704.1 164.5h5.5v5.5h-5.5zM700.2 166.2h5.5v5.5h-5.5zM703.2 166.7h5.5v5.5h-5.5zM701.9 167.1h5.5v5.5h-5.5zM701.8 169h5.5v5.5h-5.5zM700.4 167.7h5.5v5.5h-5.5zM699.7 170.9h5.5v5.5h-5.5zM700.7 170.6h5.5v5.5h-5.5zM702.9 170.9h5.5v5.5h-5.5zM702.3 173h5.5v5.5h-5.5zM698.8 172.1h5.5v5.5h-5.5zM700.1 174.9h5.5v5.5h-5.5zM699.6 176.2h5.5v5.5h-5.5zM701 177h5.5v5.5h-5.5zM701.8 177.7h5.5v5.5h-5.5zM698.7 177.3h5.5v5.5h-5.5zM699.9 179.4h5.5v5.5h-5.5zM704.2 179.1h5.5v5.5h-5.5zM699.1 179.9h5.5v5.5h-5.5zM701.2 93.2h5.5v5.5h-5.5zM699.2 115h5.5v5.5h-5.5zM703.2 186.2h5.5v5.5h-5.5zM697.2 192.2h5.5v5.5h-5.5zM702.2 193.7h5.5v5.5h-5.5zM700.2 198.2h5.5v5.5h-5.5zM699.2 202.8h5.5v5.5h-5.5z"/>
<g fill="#EC2C20"><circle cx="490.1" cy="121.4" r="3"/><circle cx="491.4" cy="122.4" r="3"/><circle cx="493.3" cy="125.1" r="3"/><circle cx="493.6" cy="125.9" r="3"/><circle cx="493" cy="127.5" r="3"/><circle cx="494.9" cy="127" r="3"/><circle cx="491.6" cy="130.4" r="3"/><circle cx="491" cy="129.7" r="3"/><circle cx="490.1" cy="132.7" r="3"/><circle cx="491.6" cy="134.7" r="3"/><circle cx="493.3" cy="133.7" r="3"/><circle cx="490.5" cy="137.4" r="3"/><circle cx="490.9" cy="138.2" r="3"/><circle cx="492.4" cy="138.4" r="3"/><circle cx="493.4" cy="140.3" r="3"/><circle cx="494" cy="142.9" r="3"/><circle cx="492.8" cy="143.3" r="3"/><circle cx="494.2" cy="146" r="3"/><circle cx="492.6" cy="145" r="3"/><circle cx="492.5" cy="148" r="3"/><circle cx="491.5" cy="147.7" r="3"/><circle cx="492.3" cy="147.4" r="3"/><circle cx="491.7" cy="149.8" r="3"/><circle cx="489.3" cy="150.3" r="3"/><circle cx="494.2" cy="149" r="3"/><circle cx="492" cy="150.1" r="3"/><circle cx="489.7" cy="150.3" r="3"/><circle cx="491.5" cy="151.6" r="3"/><circle cx="491.9" cy="151.5" r="3"/><circle cx="493.1" cy="151.8" r="3"/><circle cx="492" cy="153.9" r="3"/><circle cx="491.4" cy="153" r="3"/><circle cx="492.9" cy="152.7" r="3"/><circle cx="493.3" cy="154" r="3"/><circle cx="492.9" cy="154.7" r="3"/><circle cx="489.6" cy="153.7" r="3"/><circle cx="493.7" cy="156" r="3"/><circle cx="489.4" cy="156.6" r="3"/><circle cx="489.9" cy="156.7" r="3"/><circle cx="493.1" cy="156.9" r="3"/><circle cx="493.2" cy="158.5" r="3"/><circle cx="489.2" cy="157" r="3"/><circle cx="491.8" cy="157.8" r="3"/><circle cx="493.4" cy="157.2" r="3"/><circle cx="489.9" cy="158.9" r="3"/><circle cx="494.9" cy="158.6" r="3"/><circle cx="495.1" cy="158.4" r="3"/><circle cx="492.9" cy="161.1" r="3"/><circle cx="489.4" cy="161.6" r="3"/><circle cx="490.8" cy="160.7" r="3"/><circle cx="492.9" cy="162.9" r="3"/><circle cx="491.7" cy="162" r="3"/><circle cx="491.6" cy="163.2" r="3"/><circle cx="493.1" cy="162.5" r="3"/><circle cx="490.6" cy="162.5" r="3"/><circle cx="490.9" cy="162.5" r="3"/><circle cx="491.1" cy="164.4" r="3"/><circle cx="492.4" cy="163.2" r="3"/><circle cx="493" cy="164" r="3"/><circle cx="492.9" cy="165.9" r="3"/><circle cx="491.8" cy="166.6" r="3"/><circle cx="489.8" cy="166.1" r="3"/><circle cx="491.5" cy="168.2" r="3"/><circle cx="491.7" cy="168.2" r="3"/><circle cx="492.9" cy="168" r="3"/><circle cx="492.7" cy="170" r="3"/><circle cx="490.2" cy="168.7" r="3"/><circle cx="494" cy="171.1" r="3"/><circle cx="491.3" cy="172.6" r="3"/><circle cx="493.3" cy="174.3" r="3"/><circle cx="493.4" cy="174.8" r="3"/><circle cx="491.2" cy="175.1" r="3"/><circle cx="494.2" cy="176.4" r="3"/><circle cx="492" cy="178.5" r="3"/><circle cx="492.4" cy="178.2" r="3"/><circle cx="493.8" cy="180.2" r="3"/><circle cx="492.3" cy="183" r="3"/><circle cx="489.6" cy="94.7" r="3"/><circle cx="491.5" cy="105.9" r="3"/><circle cx="492" cy="110" r="3"/><circle cx="493" cy="115" r="3"/><circle cx="491" cy="120" r="3"/><circle cx="492" cy="189.6" r="3"/><circle cx="492" cy="200.4" r="3"/></g>
<g fill="#EC2C20"><circle cx="576.5" cy="125.9" r="3"/><circle cx="578.1" cy="129.6" r="3"/><circle cx="577.5" cy="131.9" r="3"/><circle cx="576.8" cy="131.2" r="3"/><circle cx="578.2" cy="135.4" r="3"/><circle cx="576.7" cy="136.9" r="3"/><circle cx="578.3" cy="138.9" r="3"/><circle cx="578.6" cy="138.5" r="3"/><circle cx="580" cy="140.2" r="3"/><circle cx="575.6" cy="141.2" r="3"/><circle cx="579" cy="139.9" r="3"/><circle cx="579.6" cy="142.7" r="3"/><circle cx="578.5" cy="142.8" r="3"/><circle cx="580.7" cy="143.9" r="3"/><circle cx="577.4" cy="144.9" r="3"/><circle cx="577.5" cy="144.6" r="3"/><circle cx="579" cy="145" r="3"/><circle cx="578.1" cy="146.1" r="3"/><circle cx="579.9" cy="147.4" r="3"/><circle cx="575.5" cy="147" r="3"/><circle cx="576.5" cy="149.5" r="3"/><circle cx="576.5" cy="149.5" r="3"/><circle cx="578" cy="150.8" r="3"/><circle cx="578.4" cy="150.6" r="3"/><circle cx="576.7" cy="151.2" r="3"/><circle cx="577.4" cy="154.7" r="3"/><circle cx="579.5" cy="153.3" r="3"/><circle cx="580.7" cy="156.8" r="3"/><circle cx="577.8" cy="155.1" r="3"/><circle cx="580.8" cy="158.7" r="3"/><circle cx="577.7" cy="158.9" r="3"/><circle cx="576" cy="160.7" r="3"/><circle cx="578.6" cy="160" r="3"/><circle cx="579.2" cy="161.4" r="3"/><circle cx="578.7" cy="163.8" r="3"/><circle cx="575.6" cy="162.4" r="3"/><circle cx="577.8" cy="165.5" r="3"/><circle cx="578.1" cy="164.3" r="3"/><circle cx="579.7" cy="167.3" r="3"/><circle cx="576.2" cy="166.6" r="3"/><circle cx="577.4" cy="170.1" r="3"/><circle cx="578.4" cy="169.9" r="3"/><circle cx="579.5" cy="169.8" r="3"/><circle cx="576.8" cy="171.8" r="3"/><circle cx="578.5" cy="174.1" r="3"/><circle cx="579.5" cy="174.7" r="3"/><circle cx="578.1" cy="176.5" r="3"/><circle cx="576.7" cy="177.2" r="3"/><circle cx="578.1" cy="176.5" r="3"/><circle cx="579.8" cy="178.8" r="3"/><circle cx="576" cy="178.5" r="3"/><circle cx="576.8" cy="181.1" r="3"/><circle cx="577" cy="180.7" r="3"/><circle cx="576" cy="182.6" r="3"/><circle cx="578.7" cy="184.4" r="3"/><circle cx="580.1" cy="183.6" r="3"/><circle cx="578.6" cy="186.2" r="3"/><circle cx="579.1" cy="186" r="3"/><circle cx="580.2" cy="186" r="3"/><circle cx="576.4" cy="188.4" r="3"/><circle cx="580.3" cy="188.6" r="3"/><circle cx="576.7" cy="190.4" r="3"/><circle cx="580.4" cy="192.9" r="3"/><circle cx="578.3" cy="196.4" r="3"/><circle cx="578.1" cy="198.4" r="3"/><circle cx="580.4" cy="200.3" r="3"/><circle cx="578.9" cy="201.3" r="3"/><circle cx="576.6" cy="203.6" r="3"/><circle cx="578.3" cy="203.9" r="3"/><circle cx="577.6" cy="206.2" r="3"/><circle cx="577.2" cy="210.4" r="3"/><circle cx="579" cy="99.4" r="3"/><circle cx="578" cy="107" r="3"/></g>
<g fill="#EC2C20"><circle cx="716.7" cy="139.5" r="3"/><circle cx="716.9" cy="138.8" r="3"/><circle cx="717.6" cy="142.4" r="3"/><circle cx="715.9" cy="141.3" r="3"/><circle cx="714.6" cy="143.6" r="3"/><circle cx="717.5" cy="144.1" r="3"/><circle cx="715.5" cy="146.7" r="3"/><circle cx="719" cy="147.3" r="3"/><circle cx="717.3" cy="150" r="3"/><circle cx="717.2" cy="149.4" r="3"/><circle cx="715.4" cy="152.9" r="3"/><circle cx="716.2" cy="152.3" r="3"/><circle cx="716.3" cy="153.3" r="3"/><circle cx="715.5" cy="154.7" r="3"/><circle cx="713.4" cy="154.8" r="3"/><circle cx="716.6" cy="155.6" r="3"/><circle cx="716.1" cy="156.3" r="3"/><circle cx="714.3" cy="156.3" r="3"/><circle cx="716.5" cy="159.1" r="3"/><circle cx="715.9" cy="157.6" r="3"/><circle cx="714.9" cy="159.2" r="3"/><circle cx="714.2" cy="159.4" r="3"/><circle cx="714" cy="159.8" r="3"/><circle cx="716.2" cy="161.1" r="3"/><circle cx="717.2" cy="161.7" r="3"/><circle cx="716.9" cy="161.7" r="3"/><circle cx="715.9" cy="162.1" r="3"/><circle cx="718.7" cy="163" r="3"/><circle cx="716.6" cy="163.1" r="3"/><circle cx="715.4" cy="164.5" r="3"/><circle cx="715.5" cy="163.7" r="3"/><circle cx="714.2" cy="163.8" r="3"/><circle cx="715.2" cy="165" r="3"/><circle cx="716.5" cy="167.5" r="3"/><circle cx="714.7" cy="168" r="3"/><circle cx="714.2" cy="167.2" r="3"/><circle cx="718.2" cy="169.3" r="3"/><circle cx="714.9" cy="168.3" r="3"/><circle cx="717.7" cy="168.3" r="3"/><circle cx="717.6" cy="170.7" r="3"/><circle cx="715.5" cy="171.4" r="3"/><circle cx="714.6" cy="169.4" r="3"/><circle cx="713.9" cy="172.1" r="3"/><circle cx="718.1" cy="174" r="3"/><circle cx="718.1" cy="176" r="3"/><circle cx="716.4" cy="175.6" r="3"/><circle cx="716.2" cy="177.4" r="3"/><circle cx="713.8" cy="179.3" r="3"/><circle cx="716.6" cy="181.6" r="3"/><circle cx="716.8" cy="181.1" r="3"/><circle cx="717.9" cy="183.6" r="3"/><circle cx="716" cy="184.1" r="3"/><circle cx="718.8" cy="187.3" r="3"/><circle cx="714.8" cy="189.2" r="3"/><circle cx="718.5" cy="188.9" r="3"/><circle cx="715.4" cy="191.5" r="3"/><circle cx="716.4" cy="193.7" r="3"/><circle cx="715.6" cy="193" r="3"/><circle cx="716" cy="196.8" r="3"/><circle cx="718.5" cy="195.9" r="3"/><circle cx="717" cy="107.6" r="3"/><circle cx="716.5" cy="123.6" r="3"/><circle cx="716" cy="128" r="3"/><circle cx="717" cy="133" r="3"/><circle cx="714" cy="202.7" r="3"/></g>
<rect x="472.7" y="140.5" width="13" height="25.1" fill="none" stroke="#000" stroke-width="1.9"/>
<line x1="472.7" y1="153" x2="485.7" y2="153" stroke="#000" stroke-width="4.4"/>
<line x1="479.2" y1="165.6" x2="479.2" y2="205.9" stroke="#000" stroke-width="1.9" stroke-dasharray="5 4"/>
<line x1="475.2" y1="205.9" x2="483.2" y2="205.9" stroke="#000" stroke-width="1.9"/>
<rect x="485.7" y="147.8" width="13" height="20.5" fill="none" stroke="#000" stroke-width="1.9"/>
<line x1="485.7" y1="156.3" x2="498.7" y2="156.3" stroke="#000" stroke-width="4.4"/>
<line x1="492.2" y1="133.1" x2="492.2" y2="147.8" stroke="#000" stroke-width="1.9" stroke-dasharray="5 4"/>
<line x1="488.2" y1="133.1" x2="496.2" y2="133.1" stroke="#000" stroke-width="1.9"/>
<line x1="492.2" y1="168.3" x2="492.2" y2="210" stroke="#000" stroke-width="1.9" stroke-dasharray="5 4"/>
<line x1="488.2" y1="210" x2="496.2" y2="210" stroke="#000" stroke-width="1.9"/>
<rect x="558.7" y="134.5" width="13" height="23.5" fill="none" stroke="#000" stroke-width="1.9"/>
<line x1="558.7" y1="146" x2="571.7" y2="146" stroke="#000" stroke-width="4.4"/>
<rect x="571.8" y="136.9" width="13" height="16.8" fill="none" stroke="#000" stroke-width="1.9"/>
<line x1="571.8" y1="146.5" x2="584.8" y2="146.5" stroke="#000" stroke-width="4.4"/>
<line x1="578.3" y1="125" x2="578.3" y2="136.9" stroke="#000" stroke-width="1.9" stroke-dasharray="5 4"/>
<line x1="574.3" y1="125" x2="582.3" y2="125" stroke="#000" stroke-width="1.9"/>
<line x1="578.3" y1="153.7" x2="578.3" y2="245" stroke="#000" stroke-width="1.9" stroke-dasharray="5 4"/>
<rect x="709.9" y="154.2" width="13" height="16.7" fill="none" stroke="#000" stroke-width="1.9"/>
<line x1="709.9" y1="167" x2="722.9" y2="167" stroke="#000" stroke-width="4.4"/>
<line x1="716.4" y1="140" x2="716.4" y2="154.2" stroke="#000" stroke-width="1.9" stroke-dasharray="5 4"/>
<line x1="712.4" y1="140" x2="720.4" y2="140" stroke="#000" stroke-width="1.9"/>
<line x1="716.4" y1="170.9" x2="716.4" y2="245" stroke="#000" stroke-width="1.9" stroke-dasharray="5 4"/>
<polyline points="479.2,142 565.2,157 703.6,158.5" fill="none" stroke="#000" stroke-width="4.2" stroke-linejoin="round"/>
<polyline points="492.2,146 578.3,157.5 716.4,163.5" fill="none" stroke="#EC2C20" stroke-width="4.2" stroke-linecap="round" stroke-dasharray="10 19"/>
<line x1="585.8" y1="55" x2="611.5" y2="55" stroke="#000" stroke-width="3.5" stroke-linecap="round"/>
<rect x="595.6" y="51.8" width="6.4" height="6.4" fill="#000"/>
<line x1="585.8" y1="72.3" x2="599" y2="72.3" stroke="#EC2C20" stroke-width="3.5" stroke-linecap="round"/>
<circle cx="599" cy="72.3" r="3.2" fill="#EC2C20"/>
<text class="lg" x="625" y="60.8">Placebo (n=107)</text>
<text class="lg" x="625" y="77.9">Epo (n=113)</text>
<rect x="69" y="349" width="276" height="214.5" fill="none" stroke="#1a1a1a" stroke-width="1.3"/>
<line x1="63" y1="356.4" x2="69" y2="356.4" stroke="#1a1a1a" stroke-width="1.2"/>
<text class="ax" x="57" y="363.4" text-anchor="end">10000</text>
<line x1="63" y1="374.6" x2="69" y2="374.6" stroke="#1a1a1a" stroke-width="1.2"/>
<text class="ax" x="57" y="381.6" text-anchor="end">5000</text>
<line x1="63" y1="416.7" x2="69" y2="416.7" stroke="#1a1a1a" stroke-width="1.2"/>
<text class="ax" x="57" y="423.7" text-anchor="end">1000</text>
<line x1="63" y1="434.9" x2="69" y2="434.9" stroke="#1a1a1a" stroke-width="1.2"/>
<text class="ax" x="57" y="441.9" text-anchor="end">500</text>
<line x1="63" y1="477" x2="69" y2="477" stroke="#1a1a1a" stroke-width="1.2"/>
<text class="ax" x="57" y="484" text-anchor="end">100</text>
<line x1="63" y1="495.2" x2="69" y2="495.2" stroke="#1a1a1a" stroke-width="1.2"/>
<text class="ax" x="57" y="502.2" text-anchor="end">50</text>
<line x1="63" y1="537.3" x2="69" y2="537.3" stroke="#1a1a1a" stroke-width="1.2"/>
<text class="ax" x="57" y="544.3" text-anchor="end">10</text>
<line x1="63" y1="555.5" x2="69" y2="555.5" stroke="#1a1a1a" stroke-width="1.2"/>
<text class="ax" x="57" y="562.5" text-anchor="end">5</text>
<line x1="95" y1="563.5" x2="95" y2="569.5" stroke="#1a1a1a" stroke-width="1.2"/>
<text class="ax" x="95" y="584" text-anchor="middle">Baseline</text>
<line x1="183" y1="563.5" x2="183" y2="569.5" stroke="#1a1a1a" stroke-width="1.2"/>
<text class="ax" x="183" y="584" text-anchor="middle">Day 7</text>
<line x1="319" y1="563.5" x2="319" y2="569.5" stroke="#1a1a1a" stroke-width="1.2"/>
<text class="ax" x="319" y="584" text-anchor="middle">Day 14</text>
<text class="ti" x="207" y="332.5" text-anchor="middle">IL−8 (pg/mL)</text>
<path fill="#000" d="M85.7 405.5h5.5v5.5h-5.5zM85 406.7h5.5v5.5h-5.5zM84.3 409h5.5v5.5h-5.5zM85.5 410.1h5.5v5.5h-5.5zM86.9 411.9h5.5v5.5h-5.5zM87.1 412h5.5v5.5h-5.5zM85.8 414.8h5.5v5.5h-5.5zM84.5 415.3h5.5v5.5h-5.5zM88.5 417.2h5.5v5.5h-5.5zM86 420h5.5v5.5h-5.5zM86 421.8h5.5v5.5h-5.5zM86.9 421h5.5v5.5h-5.5zM86.1 423.9h5.5v5.5h-5.5zM87.5 425.3h5.5v5.5h-5.5zM86.4 427.6h5.5v5.5h-5.5zM87.1 427.3h5.5v5.5h-5.5zM86.4 428.7h5.5v5.5h-5.5zM84.1 432.5h5.5v5.5h-5.5zM86.1 434.1h5.5v5.5h-5.5zM85.4 433.3h5.5v5.5h-5.5zM85.5 435.1h5.5v5.5h-5.5zM88.5 435.9h5.5v5.5h-5.5zM86.5 439.5h5.5v5.5h-5.5zM86.8 440.6h5.5v5.5h-5.5zM86 440.3h5.5v5.5h-5.5zM87.1 443.4h5.5v5.5h-5.5zM87.3 443.7h5.5v5.5h-5.5zM84.2 446.2h5.5v5.5h-5.5zM84.6 449h5.5v5.5h-5.5zM86.3 448.4h5.5v5.5h-5.5zM84.9 449h5.5v5.5h-5.5zM87.2 451.1h5.5v5.5h-5.5zM85.9 452.3h5.5v5.5h-5.5zM87.1 455.9h5.5v5.5h-5.5zM85.9 455.7h5.5v5.5h-5.5zM84.4 457.2h5.5v5.5h-5.5zM85.2 459.1h5.5v5.5h-5.5zM86.2 459.2h5.5v5.5h-5.5zM84.8 459.1h5.5v5.5h-5.5zM83.5 461.7h5.5v5.5h-5.5zM84.6 463.4h5.5v5.5h-5.5zM87.6 463.2h5.5v5.5h-5.5zM84.9 464.9h5.5v5.5h-5.5zM86.5 464.5h5.5v5.5h-5.5zM83.9 466.2h5.5v5.5h-5.5zM85.3 467.3h5.5v5.5h-5.5zM85.6 468.2h5.5v5.5h-5.5zM87 467.8h5.5v5.5h-5.5zM83.6 468.7h5.5v5.5h-5.5zM87.4 471.6h5.5v5.5h-5.5zM84.7 472.5h5.5v5.5h-5.5zM84.5 471.2h5.5v5.5h-5.5zM88.7 472.5h5.5v5.5h-5.5zM83.6 474.9h5.5v5.5h-5.5zM83.1 475.7h5.5v5.5h-5.5zM86.4 474.4h5.5v5.5h-5.5zM82.6 476.4h5.5v5.5h-5.5zM86.7 477.5h5.5v5.5h-5.5zM82.7 477.9h5.5v5.5h-5.5zM85.2 478.2h5.5v5.5h-5.5zM87.2 479.8h5.5v5.5h-5.5zM84.6 482.2h5.5v5.5h-5.5zM86.4 482.1h5.5v5.5h-5.5zM85.9 483h5.5v5.5h-5.5zM87.6 483.9h5.5v5.5h-5.5zM83.9 483.7h5.5v5.5h-5.5zM87 486.1h5.5v5.5h-5.5zM84.8 487.4h5.5v5.5h-5.5zM83.6 487.3h5.5v5.5h-5.5zM84.9 489.2h5.5v5.5h-5.5zM86.4 487.9h5.5v5.5h-5.5zM86.6 488.9h5.5v5.5h-5.5zM83.4 490.4h5.5v5.5h-5.5zM83.2 491.9h5.5v5.5h-5.5zM85.8 492h5.5v5.5h-5.5zM87.1 494h5.5v5.5h-5.5zM89.5 496.1h5.5v5.5h-5.5zM88.4 495.7h5.5v5.5h-5.5zM88.5 495.4h5.5v5.5h-5.5zM86.1 495.8h5.5v5.5h-5.5zM84.9 499h5.5v5.5h-5.5zM87 498.4h5.5v5.5h-5.5zM86.4 499.2h5.5v5.5h-5.5zM87 501.4h5.5v5.5h-5.5zM86.2 502.9h5.5v5.5h-5.5zM89 501.5h5.5v5.5h-5.5zM86.4 503.7h5.5v5.5h-5.5zM83.9 505.1h5.5v5.5h-5.5zM85.2 506h5.5v5.5h-5.5zM87.4 508.6h5.5v5.5h-5.5zM87.6 509.3h5.5v5.5h-5.5zM87 510.8h5.5v5.5h-5.5zM89 510.2h5.5v5.5h-5.5zM85.6 513.5h5.5v5.5h-5.5zM84.8 512.7h5.5v5.5h-5.5zM83.9 515.6h5.5v5.5h-5.5zM85.5 517.5h5.5v5.5h-5.5zM87.4 516.4h5.5v5.5h-5.5zM84.3 520h5.5v5.5h-5.5zM84.7 520.7h5.5v5.5h-5.5zM86.4 520.8h5.5v5.5h-5.5zM87.4 522.6h5.5v5.5h-5.5zM88.1 525.1h5.5v5.5h-5.5zM86.8 525.4h5.5v5.5h-5.5zM88.3 528h5.5v5.5h-5.5zM87.2 381.6h5.5v5.5h-5.5z"/>
<path fill="#000" d="M172.9 429.5h5.5v5.5h-5.5zM169.3 430.3h5.5v5.5h-5.5zM168.3 429.9h5.5v5.5h-5.5zM169.4 433.5h5.5v5.5h-5.5zM172 432.6h5.5v5.5h-5.5zM170.3 433.9h5.5v5.5h-5.5zM170.5 434.6h5.5v5.5h-5.5zM172.3 436h5.5v5.5h-5.5zM169.4 435.8h5.5v5.5h-5.5zM172.3 438.8h5.5v5.5h-5.5zM171.9 439.8h5.5v5.5h-5.5zM168.8 440.5h5.5v5.5h-5.5zM172.7 441.9h5.5v5.5h-5.5zM171.1 442.5h5.5v5.5h-5.5zM169.4 443.3h5.5v5.5h-5.5zM174.1 443.2h5.5v5.5h-5.5zM168.5 443.5h5.5v5.5h-5.5zM171.8 446.2h5.5v5.5h-5.5zM172.4 448h5.5v5.5h-5.5zM171.9 446.5h5.5v5.5h-5.5zM169.9 447.6h5.5v5.5h-5.5zM170.4 451h5.5v5.5h-5.5zM169.7 451.6h5.5v5.5h-5.5zM174 452.4h5.5v5.5h-5.5zM168 453.5h5.5v5.5h-5.5zM171.4 453.6h5.5v5.5h-5.5zM173.9 455h5.5v5.5h-5.5zM172.8 455.9h5.5v5.5h-5.5zM172.9 455.1h5.5v5.5h-5.5zM168.7 457.5h5.5v5.5h-5.5zM170.4 457h5.5v5.5h-5.5zM172.7 458.6h5.5v5.5h-5.5zM171.1 459.5h5.5v5.5h-5.5zM170.5 460.7h5.5v5.5h-5.5zM171.8 460.8h5.5v5.5h-5.5zM174.9 461.8h5.5v5.5h-5.5zM171.5 463.2h5.5v5.5h-5.5zM172.4 464.9h5.5v5.5h-5.5zM170.1 466.6h5.5v5.5h-5.5zM174.1 467.7h5.5v5.5h-5.5zM170 468.6h5.5v5.5h-5.5zM170.9 468.3h5.5v5.5h-5.5zM172.3 468.4h5.5v5.5h-5.5zM171.7 472.2h5.5v5.5h-5.5zM173 470.3h5.5v5.5h-5.5zM169.9 472.8h5.5v5.5h-5.5zM172.4 473.2h5.5v5.5h-5.5zM172.5 474.2h5.5v5.5h-5.5zM170.7 475.9h5.5v5.5h-5.5zM172.1 475.7h5.5v5.5h-5.5zM171.5 478.9h5.5v5.5h-5.5zM169.8 480h5.5v5.5h-5.5zM174.2 480.9h5.5v5.5h-5.5zM171.6 480.3h5.5v5.5h-5.5zM173.3 482.4h5.5v5.5h-5.5zM172.9 484.2h5.5v5.5h-5.5zM172.3 485h5.5v5.5h-5.5zM172.8 484.5h5.5v5.5h-5.5zM168.8 486.2h5.5v5.5h-5.5zM168.7 486.1h5.5v5.5h-5.5zM168.9 487h5.5v5.5h-5.5zM170.8 489.8h5.5v5.5h-5.5zM170.1 491.2h5.5v5.5h-5.5zM169.3 489.7h5.5v5.5h-5.5zM170.9 493h5.5v5.5h-5.5zM169.1 493.6h5.5v5.5h-5.5zM171 495.2h5.5v5.5h-5.5zM171.4 495h5.5v5.5h-5.5zM172.7 496.8h5.5v5.5h-5.5zM168.4 497.9h5.5v5.5h-5.5zM171.7 496.8h5.5v5.5h-5.5zM172.4 499.8h5.5v5.5h-5.5zM171.2 500.1h5.5v5.5h-5.5zM173.4 501.2h5.5v5.5h-5.5zM170.2 502.4h5.5v5.5h-5.5zM170.2 502.2h5.5v5.5h-5.5zM171.8 502.8h5.5v5.5h-5.5zM170.8 504.1h5.5v5.5h-5.5zM172.7 505.5h5.5v5.5h-5.5zM168.2 505.3h5.5v5.5h-5.5zM169.3 507.9h5.5v5.5h-5.5zM169.2 508.1h5.5v5.5h-5.5zM170.8 509.6h5.5v5.5h-5.5zM171.1 509.5h5.5v5.5h-5.5zM169.5 510.3h5.5v5.5h-5.5zM171.2 390.8h5.5v5.5h-5.5zM170.2 396.1h5.5v5.5h-5.5zM170.2 401.1h5.5v5.5h-5.5zM171.2 514.1h5.5v5.5h-5.5zM170.2 521h5.5v5.5h-5.5zM170.2 528h5.5v5.5h-5.5z"/>
<path fill="#000" d="M307.8 439.6h5.5v5.5h-5.5zM309.8 441.4h5.5v5.5h-5.5zM309.1 441.5h5.5v5.5h-5.5zM309.2 444.3h5.5v5.5h-5.5zM309.9 444.3h5.5v5.5h-5.5zM309.6 446.2h5.5v5.5h-5.5zM309.9 446.8h5.5v5.5h-5.5zM306.4 447.4h5.5v5.5h-5.5zM308.1 448.6h5.5v5.5h-5.5zM309.6 448.7h5.5v5.5h-5.5zM307.1 451.2h5.5v5.5h-5.5zM309.4 452.2h5.5v5.5h-5.5zM312.3 451.3h5.5v5.5h-5.5zM310.3 454.3h5.5v5.5h-5.5zM312 455.7h5.5v5.5h-5.5zM311.5 456.5h5.5v5.5h-5.5zM309.7 454.7h5.5v5.5h-5.5zM309.9 455.5h5.5v5.5h-5.5zM312.6 458.1h5.5v5.5h-5.5zM308.1 457.7h5.5v5.5h-5.5zM310.5 460.6h5.5v5.5h-5.5zM308.5 458.9h5.5v5.5h-5.5zM310.8 462.2h5.5v5.5h-5.5zM307.2 462.2h5.5v5.5h-5.5zM307 461.8h5.5v5.5h-5.5zM308.5 464.1h5.5v5.5h-5.5zM313.6 464.1h5.5v5.5h-5.5zM306.6 466.8h5.5v5.5h-5.5zM310.3 465.2h5.5v5.5h-5.5zM310.1 466h5.5v5.5h-5.5zM307.1 468.1h5.5v5.5h-5.5zM310.9 468.4h5.5v5.5h-5.5zM305 470.7h5.5v5.5h-5.5zM309.5 470.2h5.5v5.5h-5.5zM312.5 470.6h5.5v5.5h-5.5zM308.6 472.6h5.5v5.5h-5.5zM311.5 473.3h5.5v5.5h-5.5zM310.3 474h5.5v5.5h-5.5zM310.5 475.9h5.5v5.5h-5.5zM308.6 474.7h5.5v5.5h-5.5zM307.7 477.8h5.5v5.5h-5.5zM309.1 477.3h5.5v5.5h-5.5zM312 477.7h5.5v5.5h-5.5zM311.1 479.7h5.5v5.5h-5.5zM306.5 478.7h5.5v5.5h-5.5zM308.2 481.4h5.5v5.5h-5.5zM307.6 482.7h5.5v5.5h-5.5zM309.5 483.5h5.5v5.5h-5.5zM310.6 484.1h5.5v5.5h-5.5zM306.4 483.6h5.5v5.5h-5.5zM308 485.6h5.5v5.5h-5.5zM313.6 485.3h5.5v5.5h-5.5zM307 486h5.5v5.5h-5.5zM309.7 488.2h5.5v5.5h-5.5zM310 487h5.5v5.5h-5.5zM311 490.1h5.5v5.5h-5.5zM308.5 488.5h5.5v5.5h-5.5zM306.6 490.4h5.5v5.5h-5.5zM310.9 490.4h5.5v5.5h-5.5zM307.9 492.5h5.5v5.5h-5.5zM313.1 492.5h5.5v5.5h-5.5zM310.7 494.8h5.5v5.5h-5.5zM310.4 493.7h5.5v5.5h-5.5zM307.8 496.7h5.5v5.5h-5.5zM309 495.6h5.5v5.5h-5.5zM309.2 496.6h5.5v5.5h-5.5zM307.9 498.2h5.5v5.5h-5.5zM305.1 498.6h5.5v5.5h-5.5zM309.5 499.7h5.5v5.5h-5.5zM308.8 500.7h5.5v5.5h-5.5zM306.2 500.9h5.5v5.5h-5.5zM309.4 504h5.5v5.5h-5.5zM308.6 502.8h5.5v5.5h-5.5zM307.2 504.6h5.5v5.5h-5.5zM306.1 505.1h5.5v5.5h-5.5zM305.9 505.8h5.5v5.5h-5.5zM309 507.4h5.5v5.5h-5.5zM310.1 508.4h5.5v5.5h-5.5zM309.8 508.9h5.5v5.5h-5.5zM308.7 509.7h5.5v5.5h-5.5zM311.5 511.1h5.5v5.5h-5.5zM309.4 511.7h5.5v5.5h-5.5zM308.3 513.6h5.5v5.5h-5.5zM308.3 513.3h5.5v5.5h-5.5zM307 513.8h5.5v5.5h-5.5zM308 515.5h5.5v5.5h-5.5zM309.3 518.4h5.5v5.5h-5.5zM307.5 519.4h5.5v5.5h-5.5zM307 519.1h5.5v5.5h-5.5zM309.2 400.9h5.5v5.5h-5.5zM309.2 409.2h5.5v5.5h-5.5zM310.2 427.1h5.5v5.5h-5.5zM307.2 432.9h5.5v5.5h-5.5z"/>
<g fill="#EC2C20"><circle cx="102" cy="406.2" r="3"/><circle cx="101.9" cy="410.9" r="3"/><circle cx="100.7" cy="412.7" r="3"/><circle cx="101.6" cy="415" r="3"/><circle cx="100.9" cy="420" r="3"/><circle cx="98.1" cy="423.1" r="3"/><circle cx="104" cy="424.3" r="3"/><circle cx="101.2" cy="428" r="3"/><circle cx="98.5" cy="430.8" r="3"/><circle cx="100.7" cy="434.7" r="3"/><circle cx="101.1" cy="437.1" r="3"/><circle cx="102.6" cy="440" r="3"/><circle cx="101.2" cy="444.6" r="3"/><circle cx="100.5" cy="446.3" r="3"/><circle cx="102.3" cy="448.7" r="3"/><circle cx="102.8" cy="452.5" r="3"/><circle cx="102.3" cy="454.8" r="3"/><circle cx="98.6" cy="454.2" r="3"/><circle cx="103.2" cy="457" r="3"/><circle cx="98.4" cy="458.1" r="3"/><circle cx="99" cy="458.7" r="3"/><circle cx="102.5" cy="459.4" r="3"/><circle cx="102.6" cy="461.5" r="3"/><circle cx="98.2" cy="460.5" r="3"/><circle cx="101" cy="461.8" r="3"/><circle cx="102.9" cy="461.7" r="3"/><circle cx="99" cy="463.9" r="3"/><circle cx="104.5" cy="464.1" r="3"/><circle cx="104.7" cy="464.4" r="3"/><circle cx="102.3" cy="467.6" r="3"/><circle cx="98.4" cy="468.6" r="3"/><circle cx="100" cy="468.2" r="3"/><circle cx="102.2" cy="470.9" r="3"/><circle cx="100.9" cy="470.4" r="3"/><circle cx="100.9" cy="472.1" r="3"/><circle cx="102.5" cy="471.9" r="3"/><circle cx="99.7" cy="472.4" r="3"/><circle cx="100.1" cy="472.9" r="3"/><circle cx="100.3" cy="475.3" r="3"/><circle cx="101.7" cy="474.7" r="3"/><circle cx="102.4" cy="475.9" r="3"/><circle cx="102.2" cy="478.3" r="3"/><circle cx="101.1" cy="479.5" r="3"/><circle cx="98.9" cy="479.6" r="3"/><circle cx="100.8" cy="482.1" r="3"/><circle cx="100.9" cy="482.6" r="3"/><circle cx="102.3" cy="482.9" r="3"/><circle cx="102.1" cy="485" r="3"/><circle cx="99.2" cy="483.4" r="3"/><circle cx="103.6" cy="485.6" r="3"/><circle cx="100.4" cy="486.8" r="3"/><circle cx="102.8" cy="488.3" r="3"/><circle cx="102.9" cy="488.5" r="3"/><circle cx="100.3" cy="488.5" r="3"/><circle cx="103.8" cy="489.6" r="3"/><circle cx="101.3" cy="491.5" r="3"/><circle cx="101.7" cy="490.9" r="3"/><circle cx="103.4" cy="492.6" r="3"/><circle cx="101.6" cy="495.2" r="3"/><circle cx="103.8" cy="495.8" r="3"/><circle cx="100.6" cy="495" r="3"/><circle cx="98.1" cy="497.8" r="3"/><circle cx="102.2" cy="499.1" r="3"/><circle cx="102" cy="499.6" r="3"/><circle cx="100.9" cy="498.1" r="3"/><circle cx="100.3" cy="500.9" r="3"/><circle cx="99.8" cy="500.6" r="3"/><circle cx="99.7" cy="503.2" r="3"/><circle cx="102.5" cy="505.1" r="3"/><circle cx="102.4" cy="507" r="3"/><circle cx="101.6" cy="507.6" r="3"/><circle cx="99.4" cy="511.6" r="3"/><circle cx="103" cy="511.5" r="3"/><circle cx="101.4" cy="514.7" r="3"/><circle cx="99.1" cy="514.1" r="3"/><circle cx="101.1" cy="516.8" r="3"/><circle cx="99.8" cy="519.2" r="3"/><circle cx="99.8" cy="519.1" r="3"/><circle cx="100.1" cy="523.4" r="3"/><circle cx="101.5" cy="522.4" r="3"/><circle cx="100.3" cy="525.1" r="3"/><circle cx="101.1" cy="527" r="3"/><circle cx="102.4" cy="530.3" r="3"/><circle cx="102.3" cy="529.2" r="3"/><circle cx="101" cy="395.2" r="3"/><circle cx="102" cy="536.8" r="3"/></g>
<g fill="#EC2C20"><circle cx="185.9" cy="439.6" r="3"/><circle cx="187.7" cy="439.3" r="3"/><circle cx="188.7" cy="443.8" r="3"/><circle cx="186.3" cy="443.2" r="3"/><circle cx="188.8" cy="447.8" r="3"/><circle cx="186.2" cy="449" r="3"/><circle cx="184.8" cy="451.9" r="3"/><circle cx="186.9" cy="452.1" r="3"/><circle cx="187.4" cy="454.5" r="3"/><circle cx="187.1" cy="457.9" r="3"/><circle cx="184.4" cy="457.6" r="3"/><circle cx="186.2" cy="461.7" r="3"/><circle cx="186.5" cy="461" r="3"/><circle cx="188.1" cy="463.9" r="3"/><circle cx="184.6" cy="463.2" r="3"/><circle cx="185.8" cy="466.6" r="3"/><circle cx="186.8" cy="466.3" r="3"/><circle cx="187.9" cy="466.2" r="3"/><circle cx="185.2" cy="468.2" r="3"/><circle cx="186.9" cy="470.4" r="3"/><circle cx="187.9" cy="471" r="3"/><circle cx="186.5" cy="472.7" r="3"/><circle cx="185.1" cy="473.3" r="3"/><circle cx="186.5" cy="472.5" r="3"/><circle cx="188.2" cy="474.8" r="3"/><circle cx="184.4" cy="474.4" r="3"/><circle cx="185.2" cy="477" r="3"/><circle cx="185.4" cy="476.6" r="3"/><circle cx="184.4" cy="478.4" r="3"/><circle cx="187.1" cy="480.1" r="3"/><circle cx="188.5" cy="479.3" r="3"/><circle cx="187" cy="481.9" r="3"/><circle cx="187.5" cy="481.6" r="3"/><circle cx="188.6" cy="481.5" r="3"/><circle cx="184.8" cy="483.9" r="3"/><circle cx="188.7" cy="484" r="3"/><circle cx="184.7" cy="485.3" r="3"/><circle cx="189.2" cy="486.7" r="3"/><circle cx="186.7" cy="489.1" r="3"/><circle cx="186.5" cy="490.1" r="3"/><circle cx="189.2" cy="490.9" r="3"/><circle cx="187.5" cy="490.8" r="3"/><circle cx="184.6" cy="492" r="3"/><circle cx="186.7" cy="491.3" r="3"/><circle cx="185.9" cy="492.6" r="3"/><circle cx="185.3" cy="495.7" r="3"/><circle cx="187.5" cy="496.6" r="3"/><circle cx="186" cy="497.8" r="3"/><circle cx="187.8" cy="496.3" r="3"/><circle cx="184.7" cy="499.9" r="3"/><circle cx="184.8" cy="499.3" r="3"/><circle cx="185.6" cy="501.5" r="3"/><circle cx="187.5" cy="501.3" r="3"/><circle cx="186.1" cy="502.6" r="3"/><circle cx="187.3" cy="505.5" r="3"/><circle cx="187.5" cy="505.6" r="3"/><circle cx="189.1" cy="507.2" r="3"/><circle cx="187.5" cy="511" r="3"/><circle cx="186.4" cy="513" r="3"/><circle cx="185.9" cy="514.8" r="3"/><circle cx="185.8" cy="516.5" r="3"/><circle cx="185.2" cy="517.9" r="3"/><circle cx="188.8" cy="519" r="3"/><circle cx="186.3" cy="520.5" r="3"/><circle cx="187.5" cy="521.1" r="3"/><circle cx="185.8" cy="524.8" r="3"/><circle cx="187.6" cy="525" r="3"/><circle cx="185.6" cy="525.7" r="3"/><circle cx="185.4" cy="529.8" r="3"/><circle cx="185.8" cy="529" r="3"/><circle cx="186" cy="420.7" r="3"/><circle cx="188" cy="428.6" r="3"/><circle cx="185" cy="433" r="3"/><circle cx="187" cy="437" r="3"/><circle cx="184.5" cy="548.7" r="3"/><circle cx="189" cy="552.6" r="3"/></g>
<g fill="#EC2C20"><circle cx="326.6" cy="442.4" r="3"/><circle cx="323.1" cy="442.3" r="3"/><circle cx="326" cy="443.2" r="3"/><circle cx="326" cy="446.5" r="3"/><circle cx="323.8" cy="448.1" r="3"/><circle cx="322.8" cy="447.1" r="3"/><circle cx="321.8" cy="450.3" r="3"/><circle cx="326.6" cy="452" r="3"/><circle cx="326.7" cy="454" r="3"/><circle cx="324.7" cy="453.6" r="3"/><circle cx="324.5" cy="455.1" r="3"/><circle cx="321.4" cy="456.3" r="3"/><circle cx="325" cy="457.8" r="3"/><circle cx="325.2" cy="456.6" r="3"/><circle cx="326.6" cy="458.4" r="3"/><circle cx="324.2" cy="458.2" r="3"/><circle cx="327.7" cy="460.8" r="3"/><circle cx="322.6" cy="461.9" r="3"/><circle cx="327.3" cy="461" r="3"/><circle cx="323.4" cy="462.8" r="3"/><circle cx="324.7" cy="464.4" r="3"/><circle cx="323.7" cy="462.9" r="3"/><circle cx="324.2" cy="466.1" r="3"/><circle cx="327.4" cy="464.4" r="3"/><circle cx="324.7" cy="466" r="3"/><circle cx="324.5" cy="466" r="3"/><circle cx="321.5" cy="468.8" r="3"/><circle cx="323.7" cy="468.4" r="3"/><circle cx="322.6" cy="468.7" r="3"/><circle cx="323" cy="469.3" r="3"/><circle cx="322.1" cy="471.5" r="3"/><circle cx="325.9" cy="470.8" r="3"/><circle cx="323.3" cy="472" r="3"/><circle cx="324.7" cy="473.7" r="3"/><circle cx="325.4" cy="474.5" r="3"/><circle cx="322.1" cy="476.2" r="3"/><circle cx="325.3" cy="477" r="3"/><circle cx="322.8" cy="476.7" r="3"/><circle cx="326.4" cy="477.3" r="3"/><circle cx="325.7" cy="479.6" r="3"/><circle cx="323.5" cy="479.6" r="3"/><circle cx="322.9" cy="479.7" r="3"/><circle cx="328.4" cy="482.3" r="3"/><circle cx="323.3" cy="481.9" r="3"/><circle cx="328" cy="482" r="3"/><circle cx="324.7" cy="484.3" r="3"/><circle cx="327.1" cy="484.9" r="3"/><circle cx="326.5" cy="486.3" r="3"/><circle cx="326.2" cy="486.1" r="3"/><circle cx="325.1" cy="486.4" r="3"/><circle cx="324.4" cy="488.8" r="3"/><circle cx="322.2" cy="488.8" r="3"/><circle cx="326.2" cy="487.9" r="3"/><circle cx="324.6" cy="489" r="3"/><circle cx="324.7" cy="489.6" r="3"/><circle cx="327" cy="490.5" r="3"/><circle cx="323.8" cy="492.4" r="3"/><circle cx="324.7" cy="496" r="3"/><circle cx="326.8" cy="496" r="3"/><circle cx="326.8" cy="498.8" r="3"/><circle cx="323.7" cy="500.4" r="3"/><circle cx="324.8" cy="502.5" r="3"/><circle cx="324.9" cy="505.6" r="3"/><circle cx="324.3" cy="505.7" r="3"/><circle cx="324.4" cy="508.2" r="3"/><circle cx="325.1" cy="508.9" r="3"/><circle cx="323.9" cy="512.7" r="3"/><circle cx="326.9" cy="514.8" r="3"/><circle cx="324.2" cy="515.7" r="3"/><circle cx="327.2" cy="517.5" r="3"/><circle cx="325.5" cy="518" r="3"/><circle cx="324.2" cy="521.4" r="3"/><circle cx="321.6" cy="521.4" r="3"/><circle cx="326" cy="364" r="3"/><circle cx="327" cy="376" r="3"/><circle cx="325" cy="402.8" r="3"/><circle cx="323" cy="413.7" r="3"/><circle cx="327" cy="413.7" r="3"/><circle cx="322" cy="429.9" r="3"/></g>
<rect x="82.4" y="469.6" width="13" height="32.6" fill="none" stroke="#000" stroke-width="1.9"/>
<line x1="82.4" y1="486" x2="95.4" y2="486" stroke="#000" stroke-width="4.4"/>
<rect x="95" y="474.9" width="13" height="26.2" fill="none" stroke="#000" stroke-width="1.9"/>
<line x1="95" y1="486" x2="108" y2="486" stroke="#000" stroke-width="4.4"/>
<line x1="101.5" y1="457" x2="101.5" y2="474.9" stroke="#000" stroke-width="1.9" stroke-dasharray="5 4"/>
<line x1="97.5" y1="457" x2="105.5" y2="457" stroke="#000" stroke-width="1.9"/>
<line x1="101.5" y1="501.1" x2="101.5" y2="553.6" stroke="#000" stroke-width="1.9" stroke-dasharray="5 4"/>
<line x1="97.5" y1="553.6" x2="105.5" y2="553.6" stroke="#000" stroke-width="1.9"/>
<rect x="167.3" y="462.3" width="13" height="36.7" fill="none" stroke="#000" stroke-width="1.9"/>
<line x1="167.3" y1="480" x2="180.3" y2="480" stroke="#000" stroke-width="4.4"/>
<rect x="180.2" y="462.3" width="13" height="38.7" fill="none" stroke="#000" stroke-width="1.9"/>
<line x1="180.2" y1="480.2" x2="193.2" y2="480.2" stroke="#000" stroke-width="4.4"/>
<line x1="186.7" y1="441.9" x2="186.7" y2="462.3" stroke="#000" stroke-width="1.9" stroke-dasharray="5 4"/>
<line x1="182.7" y1="441.9" x2="190.7" y2="441.9" stroke="#000" stroke-width="1.9"/>
<line x1="186.7" y1="501" x2="186.7" y2="535.8" stroke="#000" stroke-width="1.9" stroke-dasharray="5 4"/>
<line x1="182.7" y1="535.8" x2="190.7" y2="535.8" stroke="#000" stroke-width="1.9"/>
<rect x="305.5" y="457.6" width="13" height="37.9" fill="none" stroke="#000" stroke-width="1.9"/>
<line x1="305.5" y1="475" x2="318.5" y2="475" stroke="#000" stroke-width="4.4"/>
<rect x="318.2" y="455.3" width="13" height="35.4" fill="none" stroke="#000" stroke-width="1.9"/>
<line x1="318.2" y1="470.4" x2="331.2" y2="470.4" stroke="#000" stroke-width="4.4"/>
<line x1="324.7" y1="439" x2="324.7" y2="455.3" stroke="#000" stroke-width="1.9" stroke-dasharray="5 4"/>
<line x1="320.7" y1="439" x2="328.7" y2="439" stroke="#000" stroke-width="1.9"/>
<line x1="324.7" y1="490.7" x2="324.7" y2="522.5" stroke="#000" stroke-width="1.9" stroke-dasharray="5 4"/>
<line x1="320.7" y1="522.5" x2="328.7" y2="522.5" stroke="#000" stroke-width="1.9"/>
<polyline points="88.9,478 173.8,487.5 312,479" fill="none" stroke="#000" stroke-width="4.2" stroke-linejoin="round"/>
<polyline points="101.5,480.5 186.7,488 324.7,471" fill="none" stroke="#EC2C20" stroke-width="4.2" stroke-linecap="round" stroke-dasharray="10 19"/>
<line x1="194.8" y1="374" x2="220.5" y2="374" stroke="#000" stroke-width="3.5" stroke-linecap="round"/>
<rect x="204.6" y="370.8" width="6.4" height="6.4" fill="#000"/>
<line x1="194.8" y1="391.3" x2="208" y2="391.3" stroke="#EC2C20" stroke-width="3.5" stroke-linecap="round"/>
<circle cx="208" cy="391.3" r="3.2" fill="#EC2C20"/>
<text class="lg" x="234" y="379.8">Placebo (n=107)</text>
<text class="lg" x="234" y="396.9">Epo (n=113)</text>
<rect x="460" y="348.5" width="276" height="215" fill="none" stroke="#1a1a1a" stroke-width="1.3"/>
<line x1="454" y1="356.6" x2="460" y2="356.6" stroke="#1a1a1a" stroke-width="1.2"/>
<text class="ax" x="448" y="363.6" text-anchor="end">200.0</text>
<line x1="454" y1="377.8" x2="460" y2="377.8" stroke="#1a1a1a" stroke-width="1.2"/>
<text class="ax" x="448" y="384.8" text-anchor="end">100.0</text>
<line x1="454" y1="399" x2="460" y2="399" stroke="#1a1a1a" stroke-width="1.2"/>
<text class="ax" x="448" y="406" text-anchor="end">50.0</text>
<line x1="454" y1="427" x2="460" y2="427" stroke="#1a1a1a" stroke-width="1.2"/>
<text class="ax" x="448" y="434" text-anchor="end">20.0</text>
<line x1="454" y1="448.2" x2="460" y2="448.2" stroke="#1a1a1a" stroke-width="1.2"/>
<text class="ax" x="448" y="455.2" text-anchor="end">10.0</text>
<line x1="454" y1="469.4" x2="460" y2="469.4" stroke="#1a1a1a" stroke-width="1.2"/>
<text class="ax" x="448" y="476.4" text-anchor="end">5.0</text>
<line x1="454" y1="497.4" x2="460" y2="497.4" stroke="#1a1a1a" stroke-width="1.2"/>
<text class="ax" x="448" y="504.4" text-anchor="end">2.0</text>
<line x1="454" y1="518.6" x2="460" y2="518.6" stroke="#1a1a1a" stroke-width="1.2"/>
<text class="ax" x="448" y="525.6" text-anchor="end">1.0</text>
<line x1="454" y1="539.8" x2="460" y2="539.8" stroke="#1a1a1a" stroke-width="1.2"/>
<text class="ax" x="448" y="546.8" text-anchor="end">0.5</text>
<line x1="486" y1="563.5" x2="486" y2="569.5" stroke="#1a1a1a" stroke-width="1.2"/>
<text class="ax" x="486" y="584" text-anchor="middle">Baseline</text>
<line x1="574" y1="563.5" x2="574" y2="569.5" stroke="#1a1a1a" stroke-width="1.2"/>
<text class="ax" x="574" y="584" text-anchor="middle">Day 7</text>
<line x1="710" y1="563.5" x2="710" y2="569.5" stroke="#1a1a1a" stroke-width="1.2"/>
<text class="ax" x="710" y="584" text-anchor="middle">Day 14</text>
<text class="ti" x="598" y="330.4" text-anchor="middle">TNF−<tspan class="sym">α</tspan> (pg/mL)</text>
<path fill="#000" d="M475.6 417.7h5.5v5.5h-5.5zM474.6 418.6h5.5v5.5h-5.5zM473.7 420.6h5.5v5.5h-5.5zM475.2 421.4h5.5v5.5h-5.5zM476.4 423.2h5.5v5.5h-5.5zM476.5 423.5h5.5v5.5h-5.5zM476 426.4h5.5v5.5h-5.5zM475.6 427.2h5.5v5.5h-5.5zM477 429.3h5.5v5.5h-5.5zM476.1 432.2h5.5v5.5h-5.5zM476.1 434.2h5.5v5.5h-5.5zM476.4 433.5h5.5v5.5h-5.5zM476.1 436.7h5.5v5.5h-5.5zM476.6 438.2h5.5v5.5h-5.5zM476.2 440.7h5.5v5.5h-5.5zM476.5 440.6h5.5v5.5h-5.5zM476.6 441.6h5.5v5.5h-5.5zM472.7 444.6h5.5v5.5h-5.5zM476.1 445.2h5.5v5.5h-5.5zM474.8 443.6h5.5v5.5h-5.5zM475.1 444.5h5.5v5.5h-5.5zM480.1 444.4h5.5v5.5h-5.5zM476.8 447.1h5.5v5.5h-5.5zM477.2 447.4h5.5v5.5h-5.5zM475.9 446.2h5.5v5.5h-5.5zM477.8 448.4h5.5v5.5h-5.5zM478.2 447.8h5.5v5.5h-5.5zM472.9 449.5h5.5v5.5h-5.5zM473.5 451.4h5.5v5.5h-5.5zM476.4 449.9h5.5v5.5h-5.5zM474 449.7h5.5v5.5h-5.5zM477.9 450.9h5.5v5.5h-5.5zM475.8 451.2h5.5v5.5h-5.5zM477.8 453.9h5.5v5.5h-5.5zM475.7 452.9h5.5v5.5h-5.5zM474.3 453.8h5.5v5.5h-5.5zM475.1 455.4h5.5v5.5h-5.5zM476.2 455.2h5.5v5.5h-5.5zM474.6 454.8h5.5v5.5h-5.5zM473.3 457.1h5.5v5.5h-5.5zM474.5 458.5h5.5v5.5h-5.5zM477.7 458.1h5.5v5.5h-5.5zM474.8 459.5h5.5v5.5h-5.5zM476.5 458.8h5.5v5.5h-5.5zM473.7 460.2h5.5v5.5h-5.5zM475.2 461.1h5.5v5.5h-5.5zM475.5 461.6h5.5v5.5h-5.5zM477.1 461h5.5v5.5h-5.5zM473.4 461.6h5.5v5.5h-5.5zM477.5 464.2h5.5v5.5h-5.5zM474.5 464.8h5.5v5.5h-5.5zM474.3 463.2h5.5v5.5h-5.5zM478.9 464.3h5.5v5.5h-5.5zM473.4 466.4h5.5v5.5h-5.5zM472.8 466.8h5.5v5.5h-5.5zM476.4 465.4h5.5v5.5h-5.5zM472.3 467h5.5v5.5h-5.5zM476.7 467.9h5.5v5.5h-5.5zM472.4 467.9h5.5v5.5h-5.5zM475.2 468h5.5v5.5h-5.5zM477.3 469.3h5.5v5.5h-5.5zM474.5 471.4h5.5v5.5h-5.5zM476.4 471.1h5.5v5.5h-5.5zM475.8 471.6h5.5v5.5h-5.5zM477.8 472.3h5.5v5.5h-5.5zM473.7 471.8h5.5v5.5h-5.5zM477.1 473.9h5.5v5.5h-5.5zM474.7 475h5.5v5.5h-5.5zM473.3 474.5h5.5v5.5h-5.5zM474.8 476.1h5.5v5.5h-5.5zM476.4 474.5h5.5v5.5h-5.5zM476.6 475.3h5.5v5.5h-5.5zM473.1 476.5h5.5v5.5h-5.5zM473 477.7h5.5v5.5h-5.5zM475.7 477.5h5.5v5.5h-5.5zM477.2 479.2h5.5v5.5h-5.5zM478.5 481.2h5.5v5.5h-5.5zM477.8 480.8h5.5v5.5h-5.5zM477.8 480.5h5.5v5.5h-5.5zM476.1 480.9h5.5v5.5h-5.5zM475.2 484.1h5.5v5.5h-5.5zM476.8 483.5h5.5v5.5h-5.5zM476.3 484.3h5.5v5.5h-5.5zM476.8 486.5h5.5v5.5h-5.5zM476.2 488h5.5v5.5h-5.5zM478.5 486.4h5.5v5.5h-5.5zM476.1 394.4h5.5v5.5h-5.5z"/>
<path fill="#000" d="M563.1 438.9h5.5v5.5h-5.5zM562.9 440.7h5.5v5.5h-5.5zM559.8 438.9h5.5v5.5h-5.5zM564.5 440.9h5.5v5.5h-5.5zM561.1 441.9h5.5v5.5h-5.5zM563.6 443.1h5.5v5.5h-5.5zM563.8 443.1h5.5v5.5h-5.5zM561 443h5.5v5.5h-5.5zM564.7 443.8h5.5v5.5h-5.5zM562 445.5h5.5v5.5h-5.5zM562.5 444.7h5.5v5.5h-5.5zM564.3 446.1h5.5v5.5h-5.5zM562.3 448.6h5.5v5.5h-5.5zM564.7 448.9h5.5v5.5h-5.5zM561.3 447.9h5.5v5.5h-5.5zM558.7 450.5h5.5v5.5h-5.5zM562.9 451.6h5.5v5.5h-5.5zM562.8 451.9h5.5v5.5h-5.5zM561.6 450.2h5.5v5.5h-5.5zM560.9 452.8h5.5v5.5h-5.5zM560.3 451.9h5.5v5.5h-5.5zM560.2 453.5h5.5v5.5h-5.5zM563.4 454.5h5.5v5.5h-5.5zM563.3 455.4h5.5v5.5h-5.5zM562.4 454.9h5.5v5.5h-5.5zM559.9 458h5.5v5.5h-5.5zM564 457h5.5v5.5h-5.5zM562.2 459.2h5.5v5.5h-5.5zM559.5 457.6h5.5v5.5h-5.5zM561.8 459.3h5.5v5.5h-5.5zM560.3 460.8h5.5v5.5h-5.5zM560.3 459.7h5.5v5.5h-5.5zM560.6 463h5.5v5.5h-5.5zM562.3 461.1h5.5v5.5h-5.5zM560.9 462.8h5.5v5.5h-5.5zM561.8 463.7h5.5v5.5h-5.5zM563.3 466h5.5v5.5h-5.5zM563.2 464h5.5v5.5h-5.5zM564.1 466.3h5.5v5.5h-5.5zM560.5 466.9h5.5v5.5h-5.5zM559.9 466.2h5.5v5.5h-5.5zM560.9 469.4h5.5v5.5h-5.5zM563.1 468.1h5.5v5.5h-5.5zM561.6 468.9h5.5v5.5h-5.5zM561.8 469.2h5.5v5.5h-5.5zM563.3 470.3h5.5v5.5h-5.5zM560.8 469.7h5.5v5.5h-5.5zM563.3 472.3h5.5v5.5h-5.5zM563 472.9h5.5v5.5h-5.5zM560.3 473.1h5.5v5.5h-5.5zM563.7 474.2h5.5v5.5h-5.5zM562.3 474.4h5.5v5.5h-5.5zM560.9 474.8h5.5v5.5h-5.5zM564.9 474.3h5.5v5.5h-5.5zM560.1 474.2h5.5v5.5h-5.5zM562.9 476.5h5.5v5.5h-5.5zM563.4 477.9h5.5v5.5h-5.5zM563 476h5.5v5.5h-5.5zM561.2 476.7h5.5v5.5h-5.5zM561.7 479.6h5.5v5.5h-5.5zM561.1 479.8h5.5v5.5h-5.5zM564.8 480.2h5.5v5.5h-5.5zM559.6 481h5.5v5.5h-5.5zM562.5 480.7h5.5v5.5h-5.5zM564.7 481.7h5.5v5.5h-5.5zM563.7 482.2h5.5v5.5h-5.5zM563.9 481h5.5v5.5h-5.5zM560.3 483h5.5v5.5h-5.5zM561.7 482.1h5.5v5.5h-5.5zM563.7 483.3h5.5v5.5h-5.5zM562.3 483.8h5.5v5.5h-5.5zM561.8 484.5h5.5v5.5h-5.5zM562.9 484.3h5.5v5.5h-5.5zM565.6 484.8h5.5v5.5h-5.5zM562.7 485.9h5.5v5.5h-5.5zM559.8 368.1h5.5v5.5h-5.5zM561.8 402.8h5.5v5.5h-5.5zM563.2 416.6h5.5v5.5h-5.5zM562.8 425.9h5.5v5.5h-5.5zM561.8 492.2h5.5v5.5h-5.5z"/>
<path fill="#000" d="M697.7 423.9h5.5v5.5h-5.5zM699.5 427h5.5v5.5h-5.5zM699.8 425.9h5.5v5.5h-5.5zM701.1 428.8h5.5v5.5h-5.5zM698.2 428.2h5.5v5.5h-5.5zM699.2 431.7h5.5v5.5h-5.5zM700 431.4h5.5v5.5h-5.5zM700.9 431.4h5.5v5.5h-5.5zM698.7 433.4h5.5v5.5h-5.5zM700.1 435.7h5.5v5.5h-5.5zM700.9 436.4h5.5v5.5h-5.5zM699.7 438.2h5.5v5.5h-5.5zM698.1 438.6h5.5v5.5h-5.5zM699.7 437.6h5.5v5.5h-5.5zM701.7 439.5h5.5v5.5h-5.5zM697.3 438.9h5.5v5.5h-5.5zM698.2 441.1h5.5v5.5h-5.5zM698.4 440.4h5.5v5.5h-5.5zM697.2 441.9h5.5v5.5h-5.5zM700.4 443.3h5.5v5.5h-5.5zM702 442.2h5.5v5.5h-5.5zM700.3 444.4h5.5v5.5h-5.5zM700.9 443.8h5.5v5.5h-5.5zM702.1 443.5h5.5v5.5h-5.5zM697.8 445.5h5.5v5.5h-5.5zM702.3 445.3h5.5v5.5h-5.5zM697.7 446.3h5.5v5.5h-5.5zM702.9 447.4h5.5v5.5h-5.5zM699.9 449.6h5.5v5.5h-5.5zM699.7 450.2h5.5v5.5h-5.5zM702.8 450.7h5.5v5.5h-5.5zM700.8 450.3h5.5v5.5h-5.5zM697.6 451.2h5.5v5.5h-5.5zM699.9 450.1h5.5v5.5h-5.5zM699 451.1h5.5v5.5h-5.5zM698.4 454h5.5v5.5h-5.5zM700.8 454.6h5.5v5.5h-5.5zM699.1 455.4h5.5v5.5h-5.5zM701.2 453.6h5.5v5.5h-5.5zM697.6 456.9h5.5v5.5h-5.5zM697.8 456.1h5.5v5.5h-5.5zM698.7 457.9h5.5v5.5h-5.5zM701 457h5.5v5.5h-5.5zM699.1 457.4h5.5v5.5h-5.5zM700.8 459.2h5.5v5.5h-5.5zM701.1 458.4h5.5v5.5h-5.5zM703.3 459h5.5v5.5h-5.5zM701.1 461.8h5.5v5.5h-5.5zM699.5 462.8h5.5v5.5h-5.5zM698.8 463.7h5.5v5.5h-5.5zM698.7 464.3h5.5v5.5h-5.5zM697.8 464.8h5.5v5.5h-5.5zM702.9 464.9h5.5v5.5h-5.5zM699.4 465.4h5.5v5.5h-5.5zM701.1 464.9h5.5v5.5h-5.5zM698.7 467.7h5.5v5.5h-5.5zM701.2 467h5.5v5.5h-5.5zM698.3 466.7h5.5v5.5h-5.5zM698.2 469.7h5.5v5.5h-5.5zM698.6 467.9h5.5v5.5h-5.5zM698.2 468.8h5.5v5.5h-5.5zM700.6 470.2h5.5v5.5h-5.5zM699.8 469.9h5.5v5.5h-5.5zM699.9 472.4h5.5v5.5h-5.5zM700.8 472.1h5.5v5.5h-5.5zM700.3 473.6h5.5v5.5h-5.5zM700.7 473.9h5.5v5.5h-5.5zM696.6 474.1h5.5v5.5h-5.5zM698.6 474.9h5.5v5.5h-5.5zM700.3 474.7h5.5v5.5h-5.5zM697.5 476.7h5.5v5.5h-5.5zM700.1 477.4h5.5v5.5h-5.5zM701.7 476.2h5.5v5.5h-5.5zM700.5 479.2h5.5v5.5h-5.5zM701.6 480.5h5.5v5.5h-5.5zM701.3 481.2h5.5v5.5h-5.5zM700.2 479.3h5.5v5.5h-5.5zM700.3 479.9h5.5v5.5h-5.5zM701.9 482.4h5.5v5.5h-5.5zM699.3 481.9h5.5v5.5h-5.5zM700.7 484.7h5.5v5.5h-5.5zM699.5 482.9h5.5v5.5h-5.5zM700.9 486.1h5.5v5.5h-5.5zM698.8 486h5.5v5.5h-5.5zM699.2 393.1h5.5v5.5h-5.5zM700.2 416.6h5.5v5.5h-5.5zM699.2 421.2h5.5v5.5h-5.5zM699.2 548.2h5.5v5.5h-5.5z"/>
<g fill="#EC2C20"><circle cx="492.4" cy="437.6" r="3"/><circle cx="489.9" cy="439" r="3"/><circle cx="491.2" cy="440" r="3"/><circle cx="493.3" cy="442.6" r="3"/><circle cx="493.6" cy="443.4" r="3"/><circle cx="492.9" cy="444.9" r="3"/><circle cx="495" cy="444.4" r="3"/><circle cx="491.5" cy="447.7" r="3"/><circle cx="490.8" cy="447" r="3"/><circle cx="489.8" cy="450" r="3"/><circle cx="491.4" cy="452" r="3"/><circle cx="493.3" cy="451" r="3"/><circle cx="490.2" cy="454.6" r="3"/><circle cx="490.7" cy="455.4" r="3"/><circle cx="492.4" cy="455.5" r="3"/><circle cx="493.4" cy="456.9" r="3"/><circle cx="494" cy="458.4" r="3"/><circle cx="492.8" cy="457.8" r="3"/><circle cx="494.2" cy="459.5" r="3"/><circle cx="492.5" cy="457.4" r="3"/><circle cx="492.4" cy="459.4" r="3"/><circle cx="491.4" cy="458.5" r="3"/><circle cx="492.2" cy="458.1" r="3"/><circle cx="491.6" cy="460.4" r="3"/><circle cx="489.2" cy="460.7" r="3"/><circle cx="494.1" cy="459.3" r="3"/><circle cx="491.9" cy="460.3" r="3"/><circle cx="489.6" cy="460.4" r="3"/><circle cx="491.4" cy="461.5" r="3"/><circle cx="491.8" cy="461.2" r="3"/><circle cx="493" cy="461.5" r="3"/><circle cx="491.9" cy="463.4" r="3"/><circle cx="491.3" cy="462.4" r="3"/><circle cx="492.8" cy="462" r="3"/><circle cx="493.2" cy="463.2" r="3"/><circle cx="492.8" cy="463.7" r="3"/><circle cx="489.5" cy="462.5" r="3"/><circle cx="493.6" cy="464.7" r="3"/><circle cx="489.3" cy="465.2" r="3"/><circle cx="489.8" cy="465.2" r="3"/><circle cx="493" cy="465.3" r="3"/><circle cx="493.1" cy="466.7" r="3"/><circle cx="489.1" cy="465.1" r="3"/><circle cx="491.7" cy="465.8" r="3"/><circle cx="493.3" cy="465.1" r="3"/><circle cx="489.8" cy="466.6" r="3"/><circle cx="494.8" cy="466.2" r="3"/><circle cx="495" cy="465.9" r="3"/><circle cx="492.8" cy="468.4" r="3"/><circle cx="489.3" cy="468.8" r="3"/><circle cx="490.8" cy="468.1" r="3"/><circle cx="492.7" cy="470.9" r="3"/><circle cx="491.6" cy="470.5" r="3"/><circle cx="491.6" cy="472.3" r="3"/><circle cx="493" cy="472.1" r="3"/><circle cx="490.6" cy="472.7" r="3"/><circle cx="490.9" cy="473.3" r="3"/><circle cx="491.1" cy="475.8" r="3"/><circle cx="492.2" cy="475.2" r="3"/><circle cx="492.9" cy="476.5" r="3"/><circle cx="492.7" cy="478.9" r="3"/><circle cx="491.7" cy="480.3" r="3"/><circle cx="489.9" cy="480.4" r="3"/><circle cx="491.5" cy="482.9" r="3"/><circle cx="491.6" cy="483.6" r="3"/><circle cx="489" cy="423" r="3"/><circle cx="491" cy="427" r="3"/><circle cx="493" cy="430.5" r="3"/><circle cx="495" cy="434.4" r="3"/></g>
<g fill="#EC2C20"><circle cx="579.2" cy="445.5" r="3"/><circle cx="577.2" cy="447.3" r="3"/><circle cx="580.7" cy="448.4" r="3"/><circle cx="577" cy="449.4" r="3"/><circle cx="577.9" cy="449.1" r="3"/><circle cx="579.3" cy="449.2" r="3"/><circle cx="578.7" cy="453" r="3"/><circle cx="580.1" cy="451.1" r="3"/><circle cx="576.9" cy="453.3" r="3"/><circle cx="579.5" cy="453.1" r="3"/><circle cx="579.5" cy="453.5" r="3"/><circle cx="577.7" cy="454.6" r="3"/><circle cx="579.2" cy="453.7" r="3"/><circle cx="578.6" cy="456.3" r="3"/><circle cx="576.8" cy="456.8" r="3"/><circle cx="581.3" cy="457.2" r="3"/><circle cx="578.6" cy="456" r="3"/><circle cx="580.4" cy="457.4" r="3"/><circle cx="580" cy="458.7" r="3"/><circle cx="579.3" cy="458.9" r="3"/><circle cx="579.8" cy="457.7" r="3"/><circle cx="575.9" cy="458.8" r="3"/><circle cx="575.8" cy="458.1" r="3"/><circle cx="575.9" cy="458.5" r="3"/><circle cx="577.8" cy="460.7" r="3"/><circle cx="577.1" cy="461.5" r="3"/><circle cx="576.4" cy="459.3" r="3"/><circle cx="578" cy="462.1" r="3"/><circle cx="576.2" cy="462.1" r="3"/><circle cx="578.1" cy="463.1" r="3"/><circle cx="578.4" cy="462.2" r="3"/><circle cx="579.8" cy="463.5" r="3"/><circle cx="575.4" cy="464" r="3"/><circle cx="578.8" cy="462.3" r="3"/><circle cx="579.4" cy="464.7" r="3"/><circle cx="578.3" cy="464.3" r="3"/><circle cx="580.5" cy="464.9" r="3"/><circle cx="577.2" cy="465.5" r="3"/><circle cx="577.3" cy="465.1" r="3"/><circle cx="578.8" cy="465.9" r="3"/><circle cx="577.9" cy="467.4" r="3"/><circle cx="579.7" cy="469.1" r="3"/><circle cx="575.3" cy="469.1" r="3"/><circle cx="576.3" cy="472" r="3"/><circle cx="576.3" cy="472.3" r="3"/><circle cx="577.8" cy="474" r="3"/><circle cx="578.2" cy="474.2" r="3"/><circle cx="576.5" cy="475.2" r="3"/><circle cx="577.2" cy="479" r="3"/><circle cx="579.3" cy="477.9" r="3"/><circle cx="580.5" cy="481.6" r="3"/><circle cx="577.6" cy="480.1" r="3"/><circle cx="580.6" cy="483.9" r="3"/><circle cx="577.5" cy="484.4" r="3"/><circle cx="575.8" cy="486.4" r="3"/><circle cx="578.4" cy="485.8" r="3"/><circle cx="579" cy="487.4" r="3"/><circle cx="578.5" cy="490" r="3"/><circle cx="579" cy="427.1" r="3"/><circle cx="580" cy="435.6" r="3"/><circle cx="581" cy="439.5" r="3"/><circle cx="575" cy="444.1" r="3"/></g>
<g fill="#EC2C20"><circle cx="713.7" cy="430.6" r="3"/><circle cx="714.7" cy="433.4" r="3"/><circle cx="718.1" cy="433.9" r="3"/><circle cx="713.4" cy="437.1" r="3"/><circle cx="715.9" cy="436" r="3"/><circle cx="715.8" cy="437.3" r="3"/><circle cx="713.8" cy="439.8" r="3"/><circle cx="716.3" cy="440.6" r="3"/><circle cx="712.4" cy="443.4" r="3"/><circle cx="715.4" cy="443.5" r="3"/><circle cx="717.3" cy="444.3" r="3"/><circle cx="714.8" cy="446.8" r="3"/><circle cx="716.7" cy="448" r="3"/><circle cx="715.9" cy="449.2" r="3"/><circle cx="716" cy="451.6" r="3"/><circle cx="714.8" cy="450.4" r="3"/><circle cx="714.1" cy="453.2" r="3"/><circle cx="715.1" cy="452.5" r="3"/><circle cx="717.1" cy="452.5" r="3"/><circle cx="716.5" cy="454.2" r="3"/><circle cx="713.2" cy="452.9" r="3"/><circle cx="714.5" cy="455.3" r="3"/><circle cx="714" cy="456.3" r="3"/><circle cx="715.4" cy="456.7" r="3"/><circle cx="716.1" cy="457" r="3"/><circle cx="713.2" cy="456.2" r="3"/><circle cx="714.3" cy="457.9" r="3"/><circle cx="718.3" cy="457.3" r="3"/><circle cx="713.6" cy="457.7" r="3"/><circle cx="715.6" cy="459.6" r="3"/><circle cx="715.8" cy="458.1" r="3"/><circle cx="716.5" cy="460.8" r="3"/><circle cx="714.7" cy="459" r="3"/><circle cx="713.3" cy="460.5" r="3"/><circle cx="716.4" cy="460.2" r="3"/><circle cx="714.2" cy="461.9" r="3"/><circle cx="718" cy="461.7" r="3"/><circle cx="716.2" cy="463.7" r="3"/><circle cx="716" cy="462.3" r="3"/><circle cx="714.2" cy="464.9" r="3"/><circle cx="715" cy="463.5" r="3"/><circle cx="715.1" cy="464.2" r="3"/><circle cx="714.3" cy="465.5" r="3"/><circle cx="712.2" cy="465.5" r="3"/><circle cx="715.4" cy="466.3" r="3"/><circle cx="714.9" cy="467.3" r="3"/><circle cx="713.4" cy="467.7" r="3"/><circle cx="715.3" cy="471.1" r="3"/><circle cx="714.8" cy="470.1" r="3"/><circle cx="714" cy="472.1" r="3"/><circle cx="713.3" cy="472.8" r="3"/><circle cx="713.2" cy="473.7" r="3"/><circle cx="715" cy="475.4" r="3"/><circle cx="715.9" cy="476.5" r="3"/><circle cx="715.7" cy="477.1" r="3"/><circle cx="714.8" cy="477.9" r="3"/><circle cx="717.1" cy="479.3" r="3"/><circle cx="714.5" cy="359.7" r="3"/><circle cx="715" cy="400.5" r="3"/><circle cx="716" cy="424.5" r="3"/><circle cx="713" cy="427.5" r="3"/><circle cx="714" cy="487.7" r="3"/><circle cx="717" cy="516" r="3"/></g>
<line x1="478.9" y1="490" x2="478.9" y2="494.6" stroke="#000" stroke-width="1.9" stroke-dasharray="5 4"/>
<line x1="474.9" y1="494.6" x2="482.9" y2="494.6" stroke="#000" stroke-width="1.9"/>
<rect x="485.6" y="458" width="13" height="10.1" fill="none" stroke="#000" stroke-width="1.9"/>
<line x1="485.6" y1="462" x2="498.6" y2="462" stroke="#000" stroke-width="4.4"/>
<line x1="492.1" y1="446.6" x2="492.1" y2="458" stroke="#000" stroke-width="1.9" stroke-dasharray="5 4"/>
<line x1="488.1" y1="446.6" x2="496.1" y2="446.6" stroke="#000" stroke-width="1.9"/>
<line x1="492.1" y1="468.1" x2="492.1" y2="489.6" stroke="#000" stroke-width="1.9" stroke-dasharray="5 4"/>
<line x1="488.1" y1="489.6" x2="496.1" y2="489.6" stroke="#000" stroke-width="1.9"/>
<rect x="571.6" y="453.4" width="13" height="11.6" fill="none" stroke="#000" stroke-width="1.9"/>
<line x1="571.6" y1="456.5" x2="584.6" y2="456.5" stroke="#000" stroke-width="4.4"/>
<line x1="578.1" y1="440.2" x2="578.1" y2="453.4" stroke="#000" stroke-width="1.9" stroke-dasharray="5 4"/>
<line x1="574.1" y1="440.2" x2="582.1" y2="440.2" stroke="#000" stroke-width="1.9"/>
<line x1="578.1" y1="465" x2="578.1" y2="483.5" stroke="#000" stroke-width="1.9" stroke-dasharray="5 4"/>
<line x1="574.1" y1="483.5" x2="582.1" y2="483.5" stroke="#000" stroke-width="1.9"/>
<line x1="702.7" y1="489" x2="702.7" y2="551.4" stroke="#000" stroke-width="1.9" stroke-dasharray="5 4"/>
<line x1="698.7" y1="551.4" x2="706.7" y2="551.4" stroke="#000" stroke-width="1.9"/>
<rect x="708.7" y="450.7" width="13" height="16.2" fill="none" stroke="#000" stroke-width="1.9"/>
<line x1="708.7" y1="462.3" x2="721.7" y2="462.3" stroke="#000" stroke-width="4.4"/>
<line x1="715.2" y1="436.8" x2="715.2" y2="450.7" stroke="#000" stroke-width="1.9" stroke-dasharray="5 4"/>
<line x1="711.2" y1="436.8" x2="719.2" y2="436.8" stroke="#000" stroke-width="1.9"/>
<line x1="715.2" y1="466.9" x2="715.2" y2="515.5" stroke="#000" stroke-width="1.9" stroke-dasharray="5 4"/>
<line x1="711.2" y1="515.5" x2="719.2" y2="515.5" stroke="#000" stroke-width="1.9"/>
<polyline points="478.9,463 565,466.5 702.7,463.5" fill="none" stroke="#000" stroke-width="4.2" stroke-linejoin="round"/>
<polyline points="492.1,461.5 578.1,462 715.2,458.5" fill="none" stroke="#EC2C20" stroke-width="4.2" stroke-linecap="round" stroke-dasharray="10 19"/>
<line x1="585.8" y1="373.5" x2="611.5" y2="373.5" stroke="#000" stroke-width="3.5" stroke-linecap="round"/>
<rect x="595.6" y="370.3" width="6.4" height="6.4" fill="#000"/>
<line x1="585.8" y1="390.8" x2="599" y2="390.8" stroke="#EC2C20" stroke-width="3.5" stroke-linecap="round"/>
<circle cx="599" cy="390.8" r="3.2" fill="#EC2C20"/>
<text class="lg" x="625" y="379.3">Placebo (n=107)</text>
<text class="lg" x="625" y="396.4">Epo (n=113)</text>
<rect x="69" y="667" width="276" height="215" fill="none" stroke="#1a1a1a" stroke-width="1.3"/>
<line x1="63" y1="674.9" x2="69" y2="674.9" stroke="#1a1a1a" stroke-width="1.2"/>
<text class="ax" x="57" y="681.9" text-anchor="end">1000.0</text>
<line x1="63" y1="717.2" x2="69" y2="717.2" stroke="#1a1a1a" stroke-width="1.2"/>
<text class="ax" x="57" y="724.2" text-anchor="end">100.0</text>
<line x1="63" y1="759.6" x2="69" y2="759.6" stroke="#1a1a1a" stroke-width="1.2"/>
<text class="ax" x="57" y="766.6" text-anchor="end">10.0</text>
<line x1="63" y1="802" x2="69" y2="802" stroke="#1a1a1a" stroke-width="1.2"/>
<text class="ax" x="57" y="809" text-anchor="end">1.0</text>
<line x1="63" y1="844.3" x2="69" y2="844.3" stroke="#1a1a1a" stroke-width="1.2"/>
<text class="ax" x="57" y="851.3" text-anchor="end">0.1</text>
<line x1="95" y1="882" x2="95" y2="888" stroke="#1a1a1a" stroke-width="1.2"/>
<text class="ax" x="95" y="902.5" text-anchor="middle">Baseline</text>
<line x1="183" y1="882" x2="183" y2="888" stroke="#1a1a1a" stroke-width="1.2"/>
<text class="ax" x="183" y="902.5" text-anchor="middle">Day 7</text>
<line x1="319" y1="882" x2="319" y2="888" stroke="#1a1a1a" stroke-width="1.2"/>
<text class="ax" x="319" y="902.5" text-anchor="middle">Day 14</text>
<text class="ti" x="207" y="651" text-anchor="middle">IL−10 (pg/mL)</text>
<path fill="#000" d="M85.5 715.9h5.5v5.5h-5.5zM85 717.8h5.5v5.5h-5.5zM84.5 720.8h5.5v5.5h-5.5zM85.3 722.6h5.5v5.5h-5.5zM86.3 725.2h5.5v5.5h-5.5zM86.4 726h5.5v5.5h-5.5zM85.5 729.5h5.5v5.5h-5.5zM84.7 730.8h5.5v5.5h-5.5zM87.4 733.4h5.5v5.5h-5.5zM85.7 736.9h5.5v5.5h-5.5zM85.6 739h5.5v5.5h-5.5zM86.9 738h5.5v5.5h-5.5zM85.6 740.8h5.5v5.5h-5.5zM87.7 742h5.5v5.5h-5.5zM86.1 744.2h5.5v5.5h-5.5zM87.1 743.7h5.5v5.5h-5.5zM86.1 745h5.5v5.5h-5.5zM82.8 748.6h5.5v5.5h-5.5zM85.7 750h5.5v5.5h-5.5zM84.6 749.1h5.5v5.5h-5.5zM84.9 750.7h5.5v5.5h-5.5zM89.1 751.3h5.5v5.5h-5.5zM86.3 754.8h5.5v5.5h-5.5zM86.6 755.8h5.5v5.5h-5.5zM85.6 755.3h5.5v5.5h-5.5zM87.1 758.2h5.5v5.5h-5.5zM87.5 758.4h5.5v5.5h-5.5zM83 760.8h5.5v5.5h-5.5zM83.5 763.3h5.5v5.5h-5.5zM86 762.6h5.5v5.5h-5.5zM83.9 763.1h5.5v5.5h-5.5zM87.2 765h5.5v5.5h-5.5zM85.4 766h5.5v5.5h-5.5zM87.1 769.5h5.5v5.5h-5.5zM85.4 769.1h5.5v5.5h-5.5zM84.2 770.7h5.5v5.5h-5.5zM84.9 773.1h5.5v5.5h-5.5zM85.8 773.7h5.5v5.5h-5.5zM84.5 774h5.5v5.5h-5.5zM83.3 776.9h5.5v5.5h-5.5zM84.1 778.8h5.5v5.5h-5.5zM87.3 778.4h5.5v5.5h-5.5zM84.4 779.9h5.5v5.5h-5.5zM86.1 779.3h5.5v5.5h-5.5zM83.3 780.8h5.5v5.5h-5.5zM84.8 781.7h5.5v5.5h-5.5zM85.1 782.4h5.5v5.5h-5.5zM86.7 781.8h5.5v5.5h-5.5zM83 782.5h5.5v5.5h-5.5zM87.1 785.2h5.5v5.5h-5.5zM84.1 785.9h5.5v5.5h-5.5zM83.9 784.4h5.5v5.5h-5.5zM88.5 785.5h5.5v5.5h-5.5zM83 787.7h5.5v5.5h-5.5zM82.4 788.3h5.5v5.5h-5.5zM86 786.8h5.5v5.5h-5.5zM81.9 788.6h5.5v5.5h-5.5zM86.3 789.5h5.5v5.5h-5.5zM82 789.7h5.5v5.5h-5.5zM84.8 789.8h5.5v5.5h-5.5zM86.9 791.2h5.5v5.5h-5.5zM84.1 793.4h5.5v5.5h-5.5zM86 793.1h5.5v5.5h-5.5zM85.4 793.8h5.5v5.5h-5.5zM87.4 794.5h5.5v5.5h-5.5zM83.3 794.1h5.5v5.5h-5.5zM86.7 796.3h5.5v5.5h-5.5zM84.3 797.4h5.5v5.5h-5.5zM82.9 797.1h5.5v5.5h-5.5zM84.4 798.8h5.5v5.5h-5.5zM86 797.3h5.5v5.5h-5.5zM86.2 798.1h5.5v5.5h-5.5zM82.7 799.4h5.5v5.5h-5.5zM82.6 800.7h5.5v5.5h-5.5zM85.3 800.6h5.5v5.5h-5.5zM86.8 802.4h5.5v5.5h-5.5zM89.4 804.3h5.5v5.5h-5.5zM88.2 803.7h5.5v5.5h-5.5zM88.3 803.2h5.5v5.5h-5.5zM85.7 803.4h5.5v5.5h-5.5zM84.4 806.4h5.5v5.5h-5.5zM86.7 805.6h5.5v5.5h-5.5zM86 806.2h5.5v5.5h-5.5zM86.7 808.2h5.5v5.5h-5.5zM85.8 809.5h5.5v5.5h-5.5zM89.4 807.7h5.5v5.5h-5.5zM86.1 809.4h5.5v5.5h-5.5zM83 810.3h5.5v5.5h-5.5zM84.6 810.6h5.5v5.5h-5.5zM87.3 812.6h5.5v5.5h-5.5zM87 812.9h5.5v5.5h-5.5zM86.4 814h5.5v5.5h-5.5zM88.2 813.2h5.5v5.5h-5.5zM85.3 816.1h5.5v5.5h-5.5zM84.6 815h5.5v5.5h-5.5zM83.9 817.6h5.5v5.5h-5.5zM85.2 828.2h5.5v5.5h-5.5z"/>
<path fill="#000" d="M172.2 771.1h5.5v5.5h-5.5zM171.6 770.9h5.5v5.5h-5.5zM169.7 774.2h5.5v5.5h-5.5zM172.7 773.3h5.5v5.5h-5.5zM171.4 775.7h5.5v5.5h-5.5zM169.5 774.4h5.5v5.5h-5.5zM171.1 776.3h5.5v5.5h-5.5zM170 778h5.5v5.5h-5.5zM170 777h5.5v5.5h-5.5zM170.3 780.6h5.5v5.5h-5.5zM171.5 778.8h5.5v5.5h-5.5zM170.5 780.7h5.5v5.5h-5.5zM171.2 781.9h5.5v5.5h-5.5zM172.2 784.4h5.5v5.5h-5.5zM172.1 782.5h5.5v5.5h-5.5zM172.8 785.1h5.5v5.5h-5.5zM170.2 785.9h5.5v5.5h-5.5zM169.5 785.4h5.5v5.5h-5.5zM169.5 788.9h5.5v5.5h-5.5zM172.6 787.7h5.5v5.5h-5.5zM170.5 788.7h5.5v5.5h-5.5zM170.8 789.1h5.5v5.5h-5.5zM172.9 790.3h5.5v5.5h-5.5zM169.5 789.8h5.5v5.5h-5.5zM173 792.5h5.5v5.5h-5.5zM172.5 793.2h5.5v5.5h-5.5zM168.7 793.6h5.5v5.5h-5.5zM173.5 794.8h5.5v5.5h-5.5zM171.5 795.1h5.5v5.5h-5.5zM169.5 795.6h5.5v5.5h-5.5zM175.2 795.2h5.5v5.5h-5.5zM168.4 795.2h5.5v5.5h-5.5zM172.4 797.7h5.5v5.5h-5.5zM173.1 799.2h5.5v5.5h-5.5zM172.5 797.4h5.5v5.5h-5.5zM170 798.2h5.5v5.5h-5.5zM170.7 801.3h5.5v5.5h-5.5zM169.8 801.6h5.5v5.5h-5.5zM175 802.1h5.5v5.5h-5.5zM167.7 803h5.5v5.5h-5.5zM171.9 802.8h5.5v5.5h-5.5zM174.8 803.9h5.5v5.5h-5.5zM173.5 804.5h5.5v5.5h-5.5zM173.7 803.5h5.5v5.5h-5.5zM168.7 805.6h5.5v5.5h-5.5zM170.6 804.9h5.5v5.5h-5.5zM173.4 806.1h5.5v5.5h-5.5zM171.5 806.8h5.5v5.5h-5.5zM170.8 807.6h5.5v5.5h-5.5zM172.4 807.5h5.5v5.5h-5.5zM176.1 808.2h5.5v5.5h-5.5zM172 809.4h5.5v5.5h-5.5zM173 810.7h5.5v5.5h-5.5zM170.3 812.1h5.5v5.5h-5.5zM175.1 813h5.5v5.5h-5.5zM169.9 813.6h5.5v5.5h-5.5zM171.2 813h5.5v5.5h-5.5zM173.2 812.8h5.5v5.5h-5.5zM172.3 816.3h5.5v5.5h-5.5zM174.2 814.1h5.5v5.5h-5.5zM169.8 816.2h5.5v5.5h-5.5zM173.4 816.3h5.5v5.5h-5.5zM173.5 817h5.5v5.5h-5.5zM170.9 818.4h5.5v5.5h-5.5zM172.9 817.8h5.5v5.5h-5.5zM172.1 820.7h5.5v5.5h-5.5zM169.7 821.4h5.5v5.5h-5.5zM175.9 822.1h5.5v5.5h-5.5zM172.2 821.2h5.5v5.5h-5.5zM174.6 822.9h5.5v5.5h-5.5zM174.1 824.4h5.5v5.5h-5.5zM173.1 824.9h5.5v5.5h-5.5zM173.9 824.1h5.5v5.5h-5.5zM168.3 825.4h5.5v5.5h-5.5zM168.2 825h5.5v5.5h-5.5zM168.4 825.6h5.5v5.5h-5.5zM171 828.1h5.5v5.5h-5.5zM170.1 829.2h5.5v5.5h-5.5zM173.2 701h5.5v5.5h-5.5zM171.2 721h5.5v5.5h-5.5zM172.2 725.2h5.5v5.5h-5.5zM171.2 737h5.5v5.5h-5.5zM171.2 742.2h5.5v5.5h-5.5zM171.2 752.1h5.5v5.5h-5.5zM172.2 757.2h5.5v5.5h-5.5zM171.2 762.2h5.5v5.5h-5.5z"/>
<path fill="#000" d="M311.3 774.9h5.5v5.5h-5.5zM307.8 774.7h5.5v5.5h-5.5zM308.5 777.4h5.5v5.5h-5.5zM308.7 777.2h5.5v5.5h-5.5zM307.8 779.1h5.5v5.5h-5.5zM310.3 781h5.5v5.5h-5.5zM311.6 780.3h5.5v5.5h-5.5zM310.2 783.1h5.5v5.5h-5.5zM310.7 782.9h5.5v5.5h-5.5zM311.7 783h5.5v5.5h-5.5zM308.2 785.5h5.5v5.5h-5.5zM311.8 785.8h5.5v5.5h-5.5zM307.7 786.9h5.5v5.5h-5.5zM312.9 787.9h5.5v5.5h-5.5zM309.9 789.9h5.5v5.5h-5.5zM309.7 790.4h5.5v5.5h-5.5zM312.8 790.8h5.5v5.5h-5.5zM310.8 790.3h5.5v5.5h-5.5zM307.6 791.1h5.5v5.5h-5.5zM309.9 789.9h5.5v5.5h-5.5zM309 790.8h5.5v5.5h-5.5zM308.4 793.5h5.5v5.5h-5.5zM310.8 794h5.5v5.5h-5.5zM309.1 794.7h5.5v5.5h-5.5zM311.2 792.7h5.5v5.5h-5.5zM307.6 796h5.5v5.5h-5.5zM307.8 795h5.5v5.5h-5.5zM308.7 796.6h5.5v5.5h-5.5zM311 795.7h5.5v5.5h-5.5zM309.1 795.9h5.5v5.5h-5.5zM310.8 797.7h5.5v5.5h-5.5zM311.1 796.7h5.5v5.5h-5.5zM313.3 797.1h5.5v5.5h-5.5zM311.1 799.9h5.5v5.5h-5.5zM309.5 800.8h5.5v5.5h-5.5zM308.8 801.5h5.5v5.5h-5.5zM308.7 802h5.5v5.5h-5.5zM307.8 802.4h5.5v5.5h-5.5zM312.9 802.4h5.5v5.5h-5.5zM309.4 802.7h5.5v5.5h-5.5zM311.1 802.2h5.5v5.5h-5.5zM308.7 804.8h5.5v5.5h-5.5zM311.2 803.9h5.5v5.5h-5.5zM308.3 803.5h5.5v5.5h-5.5zM308.2 806.4h5.5v5.5h-5.5zM308.6 804.5h5.5v5.5h-5.5zM308.2 805.3h5.5v5.5h-5.5zM310.6 806.6h5.5v5.5h-5.5zM309.8 806.2h5.5v5.5h-5.5zM309.9 808.6h5.5v5.5h-5.5zM310.8 808.1h5.5v5.5h-5.5zM310.3 809.5h5.5v5.5h-5.5zM310.7 809.6h5.5v5.5h-5.5zM306.6 809.7h5.5v5.5h-5.5zM308.6 810.4h5.5v5.5h-5.5zM310.3 810h5.5v5.5h-5.5zM307.5 812h5.5v5.5h-5.5zM310.1 812.6h5.5v5.5h-5.5zM312.5 811.2h5.5v5.5h-5.5zM310.8 814h5.5v5.5h-5.5zM312.2 815.1h5.5v5.5h-5.5zM311.9 815.6h5.5v5.5h-5.5zM310.3 813.5h5.5v5.5h-5.5zM310.5 813.9h5.5v5.5h-5.5zM312.7 816.3h5.5v5.5h-5.5zM309 815.5h5.5v5.5h-5.5zM311 818.1h5.5v5.5h-5.5zM309.5 816.2h5.5v5.5h-5.5zM310.9 819.3h5.5v5.5h-5.5zM308.8 819h5.5v5.5h-5.5zM308.6 818.4h5.5v5.5h-5.5zM309.5 820.5h5.5v5.5h-5.5zM312.5 820.3h5.5v5.5h-5.5zM308.4 822.8h5.5v5.5h-5.5zM310.6 821h5.5v5.5h-5.5zM309.2 698.5h5.5v5.5h-5.5zM312.2 708.5h5.5v5.5h-5.5zM306.2 746.5h5.5v5.5h-5.5zM309.2 758.6h5.5v5.5h-5.5zM311.2 761.6h5.5v5.5h-5.5zM309.2 769.1h5.5v5.5h-5.5z"/>
<g fill="#EC2C20"><circle cx="100.9" cy="736.6" r="3"/><circle cx="103.1" cy="735.7" r="3"/><circle cx="99.5" cy="739.5" r="3"/><circle cx="100.1" cy="740.4" r="3"/><circle cx="102" cy="740.7" r="3"/><circle cx="103.2" cy="742.7" r="3"/><circle cx="104" cy="745.4" r="3"/><circle cx="102.5" cy="745.9" r="3"/><circle cx="104.2" cy="748.7" r="3"/><circle cx="102.2" cy="747.8" r="3"/><circle cx="102.1" cy="750.9" r="3"/><circle cx="100.9" cy="751.1" r="3"/><circle cx="101.8" cy="751.9" r="3"/><circle cx="101.1" cy="755.3" r="3"/><circle cx="98.4" cy="756.8" r="3"/><circle cx="104.1" cy="756.5" r="3"/><circle cx="101.5" cy="758.6" r="3"/><circle cx="98.8" cy="759.8" r="3"/><circle cx="100.9" cy="762.1" r="3"/><circle cx="101.3" cy="763" r="3"/><circle cx="102.7" cy="764.3" r="3"/><circle cx="101.4" cy="767.4" r="3"/><circle cx="100.8" cy="767.5" r="3"/><circle cx="102.5" cy="768.3" r="3"/><circle cx="103" cy="770.5" r="3"/><circle cx="102.5" cy="772.3" r="3"/><circle cx="98.6" cy="772.2" r="3"/><circle cx="103.5" cy="775.5" r="3"/><circle cx="98.4" cy="777.2" r="3"/><circle cx="99" cy="778.3" r="3"/><circle cx="102.8" cy="779.5" r="3"/><circle cx="102.8" cy="782" r="3"/><circle cx="98.2" cy="781.6" r="3"/><circle cx="101.2" cy="783.4" r="3"/><circle cx="103.1" cy="783.8" r="3"/><circle cx="99" cy="786.5" r="3"/><circle cx="104.8" cy="787.2" r="3"/><circle cx="105.1" cy="788" r="3"/><circle cx="102.5" cy="791.7" r="3"/><circle cx="98.4" cy="793.2" r="3"/><circle cx="100.1" cy="792.9" r="3"/><circle cx="102.5" cy="795.1" r="3"/><circle cx="101.1" cy="794.2" r="3"/><circle cx="101" cy="795.5" r="3"/><circle cx="102.8" cy="794.8" r="3"/><circle cx="99.8" cy="794.9" r="3"/><circle cx="100.2" cy="795" r="3"/><circle cx="100.5" cy="796.9" r="3"/><circle cx="101.9" cy="795.8" r="3"/><circle cx="102.7" cy="796.7" r="3"/><circle cx="102.5" cy="798.6" r="3"/><circle cx="101.2" cy="799.4" r="3"/><circle cx="98.9" cy="799" r="3"/><circle cx="100.9" cy="801" r="3"/><circle cx="101.1" cy="801.2" r="3"/><circle cx="102.5" cy="801" r="3"/><circle cx="102.4" cy="802.6" r="3"/><circle cx="99.2" cy="800.6" r="3"/><circle cx="103.9" cy="802.3" r="3"/><circle cx="100.5" cy="803.2" r="3"/><circle cx="103" cy="804.2" r="3"/><circle cx="103.2" cy="803.9" r="3"/><circle cx="100.4" cy="803.5" r="3"/><circle cx="104.2" cy="804.1" r="3"/><circle cx="101.4" cy="805.6" r="3"/><circle cx="102" cy="804.6" r="3"/><circle cx="103.7" cy="805.8" r="3"/><circle cx="101.8" cy="808" r="3"/><circle cx="104.2" cy="808.1" r="3"/><circle cx="100.8" cy="806.9" r="3"/><circle cx="98.7" cy="809.5" r="3"/><circle cx="102.3" cy="810.8" r="3"/><circle cx="102.2" cy="811.5" r="3"/><circle cx="101.1" cy="810" r="3"/><circle cx="100.6" cy="812.9" r="3"/><circle cx="100" cy="812.3" r="3"/><circle cx="99.9" cy="814.2" r="3"/><circle cx="102.7" cy="815.4" r="3"/><circle cx="100" cy="726.3" r="3"/><circle cx="102" cy="733.2" r="3"/></g>
<g fill="#EC2C20"><circle cx="186.2" cy="766" r="3"/><circle cx="187.6" cy="772.5" r="3"/><circle cx="186.1" cy="776.3" r="3"/><circle cx="187.7" cy="781.1" r="3"/><circle cx="188" cy="784" r="3"/><circle cx="189.1" cy="789" r="3"/><circle cx="185" cy="791.6" r="3"/><circle cx="188.4" cy="790.4" r="3"/><circle cx="189" cy="793.2" r="3"/><circle cx="187.9" cy="793.3" r="3"/><circle cx="190.1" cy="794.4" r="3"/><circle cx="186.8" cy="795.4" r="3"/><circle cx="186.9" cy="795.1" r="3"/><circle cx="188.4" cy="795.5" r="3"/><circle cx="187.5" cy="796.6" r="3"/><circle cx="189.3" cy="797.9" r="3"/><circle cx="184.9" cy="797.6" r="3"/><circle cx="185.9" cy="800.1" r="3"/><circle cx="185.9" cy="800.1" r="3"/><circle cx="187.4" cy="801.4" r="3"/><circle cx="187.8" cy="801.2" r="3"/><circle cx="186.1" cy="801.8" r="3"/><circle cx="186.8" cy="805.3" r="3"/><circle cx="188.9" cy="803.8" r="3"/><circle cx="190.1" cy="807.2" r="3"/><circle cx="187.2" cy="805.3" r="3"/><circle cx="190.2" cy="808.7" r="3"/><circle cx="187.1" cy="808.8" r="3"/><circle cx="185.4" cy="810.4" r="3"/><circle cx="188" cy="809.5" r="3"/><circle cx="188.6" cy="810.7" r="3"/><circle cx="188.1" cy="812.9" r="3"/><circle cx="185" cy="811.4" r="3"/><circle cx="187.2" cy="814.4" r="3"/><circle cx="187.5" cy="813" r="3"/><circle cx="189.1" cy="815.8" r="3"/><circle cx="185.6" cy="815" r="3"/><circle cx="186.8" cy="818.3" r="3"/><circle cx="187.8" cy="817.9" r="3"/><circle cx="188.9" cy="817.7" r="3"/><circle cx="186.2" cy="819.5" r="3"/><circle cx="187.9" cy="821.6" r="3"/><circle cx="188.9" cy="822.1" r="3"/><circle cx="187.5" cy="823.7" r="3"/><circle cx="186.1" cy="824.2" r="3"/><circle cx="187.5" cy="823.3" r="3"/><circle cx="187" cy="737.3" r="3"/><circle cx="188" cy="743" r="3"/><circle cx="187" cy="748" r="3"/><circle cx="189" cy="753" r="3"/><circle cx="187" cy="757.3" r="3"/><circle cx="188" cy="770" r="3"/><circle cx="186" cy="775" r="3"/><circle cx="188" cy="781" r="3"/><circle cx="190" cy="786" r="3"/></g>
<g fill="#EC2C20"><circle cx="325.3" cy="779.6" r="3"/><circle cx="323.3" cy="782.1" r="3"/><circle cx="325.8" cy="782.7" r="3"/><circle cx="321.9" cy="785.4" r="3"/><circle cx="324.9" cy="785.4" r="3"/><circle cx="326.8" cy="786.2" r="3"/><circle cx="324.3" cy="788.6" r="3"/><circle cx="326.2" cy="789.7" r="3"/><circle cx="325.5" cy="790.4" r="3"/><circle cx="325.6" cy="792" r="3"/><circle cx="324.3" cy="790.4" r="3"/><circle cx="323.6" cy="793.1" r="3"/><circle cx="324.6" cy="792.4" r="3"/><circle cx="326.6" cy="792.4" r="3"/><circle cx="326" cy="794" r="3"/><circle cx="322.7" cy="792.7" r="3"/><circle cx="324" cy="795.1" r="3"/><circle cx="323.5" cy="796" r="3"/><circle cx="324.9" cy="796.4" r="3"/><circle cx="325.6" cy="796.7" r="3"/><circle cx="322.7" cy="795.8" r="3"/><circle cx="323.8" cy="797.6" r="3"/><circle cx="327.8" cy="796.8" r="3"/><circle cx="323.1" cy="797.2" r="3"/><circle cx="325.1" cy="799.1" r="3"/><circle cx="325.3" cy="797.6" r="3"/><circle cx="326" cy="800.3" r="3"/><circle cx="324.2" cy="798.4" r="3"/><circle cx="322.8" cy="799.9" r="3"/><circle cx="325.9" cy="799.6" r="3"/><circle cx="323.7" cy="801.3" r="3"/><circle cx="327.5" cy="801" r="3"/><circle cx="325.7" cy="802.9" r="3"/><circle cx="325.5" cy="801.5" r="3"/><circle cx="323.7" cy="804.1" r="3"/><circle cx="324.5" cy="802.7" r="3"/><circle cx="324.6" cy="803.6" r="3"/><circle cx="323.8" cy="805.4" r="3"/><circle cx="321.9" cy="805.9" r="3"/><circle cx="324.9" cy="807.1" r="3"/><circle cx="324.4" cy="808.3" r="3"/><circle cx="322.7" cy="808.7" r="3"/><circle cx="324.8" cy="812" r="3"/><circle cx="324.3" cy="810.9" r="3"/><circle cx="323.3" cy="812.9" r="3"/><circle cx="322.6" cy="813.6" r="3"/><circle cx="322.5" cy="814.4" r="3"/><circle cx="324.5" cy="816.1" r="3"/><circle cx="325.5" cy="817.2" r="3"/><circle cx="325.2" cy="817.7" r="3"/><circle cx="325" cy="689.7" r="3"/><circle cx="326" cy="702" r="3"/><circle cx="325" cy="739.4" r="3"/><circle cx="326" cy="747.5" r="3"/><circle cx="324" cy="771.9" r="3"/><circle cx="326" cy="776" r="3"/><circle cx="324.7" cy="865.6" r="3"/></g>
<rect x="82" y="792.7" width="13" height="18.6" fill="none" stroke="#000" stroke-width="1.9"/>
<line x1="82" y1="803" x2="95" y2="803" stroke="#000" stroke-width="4.4"/>
<rect x="95.2" y="793.5" width="13" height="13.9" fill="none" stroke="#000" stroke-width="1.9"/>
<line x1="95.2" y1="802.8" x2="108.2" y2="802.8" stroke="#000" stroke-width="4.4"/>
<line x1="101.7" y1="788" x2="101.7" y2="793.5" stroke="#000" stroke-width="1.9" stroke-dasharray="5 4"/>
<line x1="97.7" y1="788" x2="105.7" y2="788" stroke="#000" stroke-width="1.9"/>
<line x1="101.7" y1="807.4" x2="101.7" y2="823.6" stroke="#000" stroke-width="1.9" stroke-dasharray="5 4"/>
<line x1="97.7" y1="823.6" x2="105.7" y2="823.6" stroke="#000" stroke-width="1.9"/>
<rect x="167.7" y="758.9" width="13" height="41.1" fill="none" stroke="#000" stroke-width="1.9"/>
<line x1="167.7" y1="790" x2="180.7" y2="790" stroke="#000" stroke-width="4.4"/>
<line x1="174.2" y1="741.3" x2="174.2" y2="758.9" stroke="#000" stroke-width="1.9" stroke-dasharray="5 4"/>
<line x1="170.2" y1="741.3" x2="178.2" y2="741.3" stroke="#000" stroke-width="1.9"/>
<rect x="181.2" y="762.9" width="13" height="31.9" fill="none" stroke="#000" stroke-width="1.9"/>
<line x1="181.2" y1="778" x2="194.2" y2="778" stroke="#000" stroke-width="4.4"/>
<line x1="187.7" y1="747.7" x2="187.7" y2="762.9" stroke="#000" stroke-width="1.9" stroke-dasharray="5 4"/>
<line x1="183.7" y1="747.7" x2="191.7" y2="747.7" stroke="#000" stroke-width="1.9"/>
<line x1="187.7" y1="794.8" x2="187.7" y2="814" stroke="#000" stroke-width="1.9" stroke-dasharray="5 4"/>
<line x1="183.7" y1="814" x2="191.7" y2="814" stroke="#000" stroke-width="1.9"/>
<rect x="318.2" y="789.4" width="13" height="15.3" fill="none" stroke="#000" stroke-width="1.9"/>
<line x1="318.2" y1="800.5" x2="331.2" y2="800.5" stroke="#000" stroke-width="4.4"/>
<line x1="324.7" y1="781" x2="324.7" y2="789.4" stroke="#000" stroke-width="1.9" stroke-dasharray="5 4"/>
<line x1="320.7" y1="781" x2="328.7" y2="781" stroke="#000" stroke-width="1.9"/>
<line x1="324.7" y1="804.7" x2="324.7" y2="865.6" stroke="#000" stroke-width="1.9" stroke-dasharray="5 4"/>
<line x1="320.7" y1="865.6" x2="328.7" y2="865.6" stroke="#000" stroke-width="1.9"/>
<polyline points="88.5,782.4 174.2,802.5 312.7,797.5" fill="none" stroke="#000" stroke-width="4.2" stroke-linejoin="round"/>
<polyline points="101.7,778.5 187.7,801 324.7,797.5" fill="none" stroke="#EC2C20" stroke-width="4.2" stroke-linecap="round" stroke-dasharray="10 19"/>
<line x1="194.8" y1="692" x2="220.5" y2="692" stroke="#000" stroke-width="3.5" stroke-linecap="round"/>
<rect x="204.6" y="688.8" width="6.4" height="6.4" fill="#000"/>
<line x1="194.8" y1="709.3" x2="208" y2="709.3" stroke="#EC2C20" stroke-width="3.5" stroke-linecap="round"/>
<circle cx="208" cy="709.3" r="3.2" fill="#EC2C20"/>
<text class="lg" x="234" y="697.8">Placebo (n=103)</text>
<text class="lg" x="234" y="714.9">Epo (n=109)</text>
<rect x="460" y="667" width="276" height="215" fill="none" stroke="#1a1a1a" stroke-width="1.3"/>
<line x1="454" y1="674.9" x2="460" y2="674.9" stroke="#1a1a1a" stroke-width="1.2"/>
<text class="ax" x="448" y="681.9" text-anchor="end">1000.0</text>
<line x1="454" y1="724.6" x2="460" y2="724.6" stroke="#1a1a1a" stroke-width="1.2"/>
<text class="ax" x="448" y="731.6" text-anchor="end">100.0</text>
<line x1="454" y1="774.3" x2="460" y2="774.3" stroke="#1a1a1a" stroke-width="1.2"/>
<text class="ax" x="448" y="781.3" text-anchor="end">10.0</text>
<line x1="454" y1="824" x2="460" y2="824" stroke="#1a1a1a" stroke-width="1.2"/>
<text class="ax" x="448" y="831" text-anchor="end">1.0</text>
<line x1="454" y1="873.7" x2="460" y2="873.7" stroke="#1a1a1a" stroke-width="1.2"/>
<text class="ax" x="448" y="880.7" text-anchor="end">0.1</text>
<line x1="486" y1="882" x2="486" y2="888" stroke="#1a1a1a" stroke-width="1.2"/>
<text class="ax" x="486" y="902.5" text-anchor="middle">Baseline</text>
<line x1="574" y1="882" x2="574" y2="888" stroke="#1a1a1a" stroke-width="1.2"/>
<text class="ax" x="574" y="902.5" text-anchor="middle">Day 7</text>
<line x1="710" y1="882" x2="710" y2="888" stroke="#1a1a1a" stroke-width="1.2"/>
<text class="ax" x="710" y="902.5" text-anchor="middle">Day 14</text>
<text class="ti" x="598" y="649" text-anchor="middle">IFN−<tspan class="sym">γ</tspan> (pg/mL)</text>
<path fill="#000" d="M475.2 745.2h5.5v5.5h-5.5zM474.4 745.9h5.5v5.5h-5.5zM473.6 747.8h5.5v5.5h-5.5zM474.9 748.4h5.5v5.5h-5.5zM476.5 749.8h5.5v5.5h-5.5zM476.8 749.5h5.5v5.5h-5.5zM475.3 751.7h5.5v5.5h-5.5zM473.8 751.8h5.5v5.5h-5.5zM478.4 753.3h5.5v5.5h-5.5zM475.5 755.6h5.5v5.5h-5.5zM475.5 757h5.5v5.5h-5.5zM476.5 755.7h5.5v5.5h-5.5zM475.6 758.2h5.5v5.5h-5.5zM477.2 759.1h5.5v5.5h-5.5zM476 761h5.5v5.5h-5.5zM476.7 760.3h5.5v5.5h-5.5zM476 761.2h5.5v5.5h-5.5zM473.4 764.6h5.5v5.5h-5.5zM475.6 765.7h5.5v5.5h-5.5zM474.8 764.5h5.5v5.5h-5.5zM475 765.8h5.5v5.5h-5.5zM478.3 766.1h5.5v5.5h-5.5zM476.1 769.3h5.5v5.5h-5.5zM476.3 770h5.5v5.5h-5.5zM475.5 769.2h5.5v5.5h-5.5zM476.7 771.9h5.5v5.5h-5.5zM477 771.7h5.5v5.5h-5.5zM473.5 773.8h5.5v5.5h-5.5zM473.9 776.1h5.5v5.5h-5.5zM475.8 775.1h5.5v5.5h-5.5zM473.6 775.1h5.5v5.5h-5.5zM477.3 776.3h5.5v5.5h-5.5zM475.3 776.7h5.5v5.5h-5.5zM477.1 779.5h5.5v5.5h-5.5zM475.3 778.5h5.5v5.5h-5.5zM473.9 779.5h5.5v5.5h-5.5zM474.7 781.2h5.5v5.5h-5.5zM475.7 781.1h5.5v5.5h-5.5zM474.3 780.7h5.5v5.5h-5.5zM473 783h5.5v5.5h-5.5zM474.1 784.5h5.5v5.5h-5.5zM477.1 784.1h5.5v5.5h-5.5zM474.4 785.6h5.5v5.5h-5.5zM476 785h5.5v5.5h-5.5zM473.4 786.4h5.5v5.5h-5.5zM474.8 787.3h5.5v5.5h-5.5zM475.1 787.9h5.5v5.5h-5.5zM476.5 787.4h5.5v5.5h-5.5zM473.1 788h5.5v5.5h-5.5zM476.9 790.7h5.5v5.5h-5.5zM474.2 791.4h5.5v5.5h-5.5zM474 789.8h5.5v5.5h-5.5zM478.2 791h5.5v5.5h-5.5zM473.1 793.2h5.5v5.5h-5.5zM472.6 793.6h5.5v5.5h-5.5zM475.9 792.2h5.5v5.5h-5.5zM472.1 793.9h5.5v5.5h-5.5zM476.2 794.9h5.5v5.5h-5.5zM472.2 794.9h5.5v5.5h-5.5zM474.7 795.1h5.5v5.5h-5.5zM476.7 796.4h5.5v5.5h-5.5zM474.1 798.6h5.5v5.5h-5.5zM475.9 798.3h5.5v5.5h-5.5zM475.4 798.9h5.5v5.5h-5.5zM477.1 799.6h5.5v5.5h-5.5zM473.4 799.2h5.5v5.5h-5.5zM476.5 801.4h5.5v5.5h-5.5zM474.3 802.5h5.5v5.5h-5.5zM473.1 802.1h5.5v5.5h-5.5zM474.4 803.8h5.5v5.5h-5.5zM475.8 802.6h5.5v5.5h-5.5zM476 804h5.5v5.5h-5.5zM473.4 806h5.5v5.5h-5.5zM473.3 807.9h5.5v5.5h-5.5zM475.4 808.4h5.5v5.5h-5.5zM476.4 810.8h5.5v5.5h-5.5zM478.3 813.4h5.5v5.5h-5.5zM477.5 813.4h5.5v5.5h-5.5zM477.5 813.5h5.5v5.5h-5.5zM475.6 814.4h5.5v5.5h-5.5zM474.6 818h5.5v5.5h-5.5zM476.3 817.9h5.5v5.5h-5.5zM475.8 819.1h5.5v5.5h-5.5zM476.3 821.7h5.5v5.5h-5.5zM475.7 823.7h5.5v5.5h-5.5zM478.3 822.5h5.5v5.5h-5.5zM475.9 824.8h5.5v5.5h-5.5zM473.6 826.3h5.5v5.5h-5.5zM474.8 827.3h5.5v5.5h-5.5zM476.8 829.9h5.5v5.5h-5.5zM477 830.8h5.5v5.5h-5.5zM476.4 832.3h5.5v5.5h-5.5zM478.3 831.8h5.5v5.5h-5.5zM475.1 835.1h5.5v5.5h-5.5zM474.4 834.5h5.5v5.5h-5.5zM473.5 837.4h5.5v5.5h-5.5zM475 839.4h5.5v5.5h-5.5zM476.8 838.4h5.5v5.5h-5.5zM473.9 842.1h5.5v5.5h-5.5zM474.3 842.9h5.5v5.5h-5.5zM475.9 843h5.5v5.5h-5.5zM476.9 844.9h5.5v5.5h-5.5zM477.5 847.5h5.5v5.5h-5.5zM476.3 847.9h5.5v5.5h-5.5zM477.6 850.6h5.5v5.5h-5.5zM475.2 703.6h5.5v5.5h-5.5zM477.2 718.8h5.5v5.5h-5.5zM476.2 724.2h5.5v5.5h-5.5zM477.2 868.8h5.5v5.5h-5.5z"/>
<path fill="#000" d="M562.8 762.2h5.5v5.5h-5.5zM563.8 764.6h5.5v5.5h-5.5zM559.9 765.4h5.5v5.5h-5.5zM558.8 764.8h5.5v5.5h-5.5zM560 768.3h5.5v5.5h-5.5zM562.8 767.3h5.5v5.5h-5.5zM560.9 768.4h5.5v5.5h-5.5zM561.1 768.9h5.5v5.5h-5.5zM563.1 770.3h5.5v5.5h-5.5zM560 769.9h5.5v5.5h-5.5zM563.1 772.8h5.5v5.5h-5.5zM562.7 773.7h5.5v5.5h-5.5zM559.3 774.2h5.5v5.5h-5.5zM563.6 775.5h5.5v5.5h-5.5zM561.8 776h5.5v5.5h-5.5zM560 776.7h5.5v5.5h-5.5zM565.1 776.4h5.5v5.5h-5.5zM559 776.5h5.5v5.5h-5.5zM562.6 779.1h5.5v5.5h-5.5zM563.2 780.8h5.5v5.5h-5.5zM562.7 779.2h5.5v5.5h-5.5zM560.5 780.1h5.5v5.5h-5.5zM561.1 783.4h5.5v5.5h-5.5zM560.3 783.8h5.5v5.5h-5.5zM564.9 784.5h5.5v5.5h-5.5zM558.4 785.5h5.5v5.5h-5.5zM562.1 785.5h5.5v5.5h-5.5zM564.8 786.7h5.5v5.5h-5.5zM563.6 787.5h5.5v5.5h-5.5zM563.8 786.6h5.5v5.5h-5.5zM559.2 788.9h5.5v5.5h-5.5zM561 788.3h5.5v5.5h-5.5zM563.5 789.7h5.5v5.5h-5.5zM561.8 790.5h5.5v5.5h-5.5zM561.2 791.5h5.5v5.5h-5.5zM562.7 791.4h5.5v5.5h-5.5zM566.4 792.1h5.5v5.5h-5.5zM562.3 793.2h5.5v5.5h-5.5zM563.3 794.5h5.5v5.5h-5.5zM560.6 795.9h5.5v5.5h-5.5zM565.4 796.8h5.5v5.5h-5.5zM560.2 797.4h5.5v5.5h-5.5zM561.5 796.7h5.5v5.5h-5.5zM563.5 796.5h5.5v5.5h-5.5zM562.6 799.9h5.5v5.5h-5.5zM564.5 797.7h5.5v5.5h-5.5zM560.1 799.8h5.5v5.5h-5.5zM563.7 799.8h5.5v5.5h-5.5zM563.8 800.5h5.5v5.5h-5.5zM561.2 801.8h5.5v5.5h-5.5zM563.2 801.2h5.5v5.5h-5.5zM562.4 804.1h5.5v5.5h-5.5zM560 804.8h5.5v5.5h-5.5zM566.2 805.5h5.5v5.5h-5.5zM562.5 804.5h5.5v5.5h-5.5zM564.9 806.2h5.5v5.5h-5.5zM564.4 807.7h5.5v5.5h-5.5zM563.4 808.1h5.5v5.5h-5.5zM564.2 807.3h5.5v5.5h-5.5zM558.6 808.6h5.5v5.5h-5.5zM558.5 808.1h5.5v5.5h-5.5zM558.7 808.7h5.5v5.5h-5.5zM561.3 811.2h5.5v5.5h-5.5zM560.4 812.3h5.5v5.5h-5.5zM559.3 810.3h5.5v5.5h-5.5zM561.6 813.3h5.5v5.5h-5.5zM559.1 813.6h5.5v5.5h-5.5zM561.7 814.9h5.5v5.5h-5.5zM562.2 814.2h5.5v5.5h-5.5zM564.1 815.8h5.5v5.5h-5.5zM558 816.5h5.5v5.5h-5.5zM562.7 815.1h5.5v5.5h-5.5zM563.6 817.7h5.5v5.5h-5.5zM562 817.6h5.5v5.5h-5.5zM565.1 818.4h5.5v5.5h-5.5zM560.7 819.5h5.5v5.5h-5.5zM560.8 819.4h5.5v5.5h-5.5zM562.6 820.1h5.5v5.5h-5.5zM561.5 821.4h5.5v5.5h-5.5zM563.7 823h5.5v5.5h-5.5zM558.5 822.9h5.5v5.5h-5.5zM559.7 825.7h5.5v5.5h-5.5zM559.6 825.9h5.5v5.5h-5.5zM561.4 827.5h5.5v5.5h-5.5zM561.8 827.5h5.5v5.5h-5.5zM559.9 828.4h5.5v5.5h-5.5zM560.7 832.1h5.5v5.5h-5.5zM563.1 830.9h5.5v5.5h-5.5zM564.5 834.5h5.5v5.5h-5.5zM561.2 832.9h5.5v5.5h-5.5zM564.6 836.6h5.5v5.5h-5.5zM561 836.9h5.5v5.5h-5.5zM559 838.8h5.5v5.5h-5.5zM562.2 682.8h5.5v5.5h-5.5zM560.2 690.5h5.5v5.5h-5.5zM562.2 707h5.5v5.5h-5.5zM563.2 722.5h5.5v5.5h-5.5zM561.2 734.6h5.5v5.5h-5.5zM560.2 741.2h5.5v5.5h-5.5zM562.2 749h5.5v5.5h-5.5zM561.2 752.2h5.5v5.5h-5.5zM561.2 847.1h5.5v5.5h-5.5zM562.2 853.8h5.5v5.5h-5.5z"/>
<path fill="#000" d="M698.7 738.6h5.5v5.5h-5.5zM698.5 742.1h5.5v5.5h-5.5zM698.9 740.7h5.5v5.5h-5.5zM698.6 742h5.5v5.5h-5.5zM700.5 743.8h5.5v5.5h-5.5zM699.8 743.8h5.5v5.5h-5.5zM699.9 746.7h5.5v5.5h-5.5zM700.6 746.7h5.5v5.5h-5.5zM700.3 748.7h5.5v5.5h-5.5zM700.6 749.3h5.5v5.5h-5.5zM697.3 749.9h5.5v5.5h-5.5zM698.9 751h5.5v5.5h-5.5zM700.2 751.2h5.5v5.5h-5.5zM698 753.7h5.5v5.5h-5.5zM700.1 754.7h5.5v5.5h-5.5zM702 753.9h5.5v5.5h-5.5zM700.6 757.1h5.5v5.5h-5.5zM701.8 758.7h5.5v5.5h-5.5zM701.5 759.8h5.5v5.5h-5.5zM700.2 758.2h5.5v5.5h-5.5zM700.4 759.1h5.5v5.5h-5.5zM702.2 762h5.5v5.5h-5.5zM699.2 761.7h5.5v5.5h-5.5zM700.8 764.8h5.5v5.5h-5.5zM699.4 763.4h5.5v5.5h-5.5zM701.3 766.7h5.5v5.5h-5.5zM698.3 766.4h5.5v5.5h-5.5zM698.1 765.8h5.5v5.5h-5.5zM699.3 767.9h5.5v5.5h-5.5zM703.6 767.7h5.5v5.5h-5.5zM697.7 770.2h5.5v5.5h-5.5zM700.8 768.4h5.5v5.5h-5.5zM700.7 769h5.5v5.5h-5.5zM698.1 770.9h5.5v5.5h-5.5zM701.3 771h5.5v5.5h-5.5zM696.4 773.1h5.5v5.5h-5.5zM700.2 772.5h5.5v5.5h-5.5zM702.6 772.6h5.5v5.5h-5.5zM699.4 774.4h5.5v5.5h-5.5zM701.8 774.9h5.5v5.5h-5.5zM700.8 775.4h5.5v5.5h-5.5zM701 777.2h5.5v5.5h-5.5zM699.4 775.7h5.5v5.5h-5.5zM698.7 778.6h5.5v5.5h-5.5zM699.8 778h5.5v5.5h-5.5zM702.2 778.1h5.5v5.5h-5.5zM701.5 779.9h5.5v5.5h-5.5zM697.7 778.7h5.5v5.5h-5.5zM699.1 781.2h5.5v5.5h-5.5zM698.6 782.3h5.5v5.5h-5.5zM700.1 782.8h5.5v5.5h-5.5zM701 783.3h5.5v5.5h-5.5zM697.6 782.5h5.5v5.5h-5.5zM698.9 784.4h5.5v5.5h-5.5zM703.6 783.9h5.5v5.5h-5.5zM698.1 784.4h5.5v5.5h-5.5zM700.4 786.4h5.5v5.5h-5.5zM700.6 785h5.5v5.5h-5.5zM701.4 787.9h5.5v5.5h-5.5zM699.4 786.1h5.5v5.5h-5.5zM697.7 787.8h5.5v5.5h-5.5zM701.3 787.6h5.5v5.5h-5.5zM698.8 789.4h5.5v5.5h-5.5zM703.2 789.3h5.5v5.5h-5.5zM701.1 791.4h5.5v5.5h-5.5zM700.9 790.1h5.5v5.5h-5.5zM698.7 792.9h5.5v5.5h-5.5zM699.8 791.6h5.5v5.5h-5.5zM699.9 792.3h5.5v5.5h-5.5zM698.9 793.8h5.5v5.5h-5.5zM697 794.2h5.5v5.5h-5.5zM700.2 795.6h5.5v5.5h-5.5zM699.6 797h5.5v5.5h-5.5zM697.8 797.5h5.5v5.5h-5.5zM700.1 800.9h5.5v5.5h-5.5zM699.5 800h5.5v5.5h-5.5zM698.5 802.2h5.5v5.5h-5.5zM697.7 803h5.5v5.5h-5.5zM697.6 804h5.5v5.5h-5.5zM699.8 805.9h5.5v5.5h-5.5zM700.8 807.1h5.5v5.5h-5.5zM700.5 807.7h5.5v5.5h-5.5zM699.4 808.7h5.5v5.5h-5.5zM702.2 810.2h5.5v5.5h-5.5zM700.1 810.9h5.5v5.5h-5.5zM699 812.9h5.5v5.5h-5.5zM699 812.7h5.5v5.5h-5.5zM697.7 813.4h5.5v5.5h-5.5zM698.7 815.2h5.5v5.5h-5.5zM700 818.3h5.5v5.5h-5.5zM698.2 819.4h5.5v5.5h-5.5zM697.7 819.2h5.5v5.5h-5.5zM701.7 821.9h5.5v5.5h-5.5zM698.4 821.5h5.5v5.5h-5.5zM701.2 822.1h5.5v5.5h-5.5zM701.2 825.1h5.5v5.5h-5.5zM699.1 826.4h5.5v5.5h-5.5zM698.2 825.1h5.5v5.5h-5.5zM697.2 827.9h5.5v5.5h-5.5zM701.8 829.4h5.5v5.5h-5.5zM699.2 710h5.5v5.5h-5.5zM699.2 722.9h5.5v5.5h-5.5zM698.2 735.5h5.5v5.5h-5.5zM702.2 858.2h5.5v5.5h-5.5z"/>
<g fill="#EC2C20"><circle cx="493.5" cy="759.8" r="3"/><circle cx="493.4" cy="762.7" r="3"/><circle cx="492.3" cy="762.6" r="3"/><circle cx="493.1" cy="763.1" r="3"/><circle cx="492.4" cy="766.1" r="3"/><circle cx="489.8" cy="767.3" r="3"/><circle cx="495.2" cy="766.7" r="3"/><circle cx="492.8" cy="768.5" r="3"/><circle cx="490.3" cy="769.4" r="3"/><circle cx="492.3" cy="771.4" r="3"/><circle cx="492.6" cy="771.9" r="3"/><circle cx="494" cy="773" r="3"/><circle cx="492.7" cy="775.7" r="3"/><circle cx="492.1" cy="775.5" r="3"/><circle cx="493.8" cy="775.9" r="3"/><circle cx="494.2" cy="777.9" r="3"/><circle cx="493.8" cy="779.3" r="3"/><circle cx="490.1" cy="779" r="3"/><circle cx="494.7" cy="781.9" r="3"/><circle cx="489.9" cy="783.3" r="3"/><circle cx="490.3" cy="783.7" r="3"/><circle cx="494.1" cy="784" r="3"/><circle cx="494.1" cy="785.6" r="3"/><circle cx="489.5" cy="784.2" r="3"/><circle cx="492.5" cy="785.1" r="3"/><circle cx="494.4" cy="784.6" r="3"/><circle cx="490.3" cy="786.3" r="3"/><circle cx="496.1" cy="786.2" r="3"/><circle cx="496.4" cy="786" r="3"/><circle cx="493.8" cy="788.8" r="3"/><circle cx="489.7" cy="789.3" r="3"/><circle cx="491.4" cy="788.5" r="3"/><circle cx="493.8" cy="790.8" r="3"/><circle cx="492.4" cy="789.9" r="3"/><circle cx="492.3" cy="791.2" r="3"/><circle cx="494.1" cy="790.5" r="3"/><circle cx="491.1" cy="790.6" r="3"/><circle cx="491.5" cy="790.7" r="3"/><circle cx="491.8" cy="792.7" r="3"/><circle cx="493.2" cy="791.6" r="3"/><circle cx="494" cy="792.5" r="3"/><circle cx="493.8" cy="794.4" r="3"/><circle cx="492.5" cy="795.2" r="3"/><circle cx="490.2" cy="794.8" r="3"/><circle cx="492.2" cy="796.9" r="3"/><circle cx="492.4" cy="797" r="3"/><circle cx="493.8" cy="796.9" r="3"/><circle cx="493.7" cy="798.5" r="3"/><circle cx="490.5" cy="796.5" r="3"/><circle cx="495.2" cy="798.2" r="3"/><circle cx="491.8" cy="799.1" r="3"/><circle cx="494.3" cy="800.1" r="3"/><circle cx="494.5" cy="799.9" r="3"/><circle cx="491.7" cy="799.5" r="3"/><circle cx="495.5" cy="800.1" r="3"/><circle cx="492.8" cy="802.1" r="3"/><circle cx="493.2" cy="802" r="3"/><circle cx="494.9" cy="804.1" r="3"/><circle cx="493.1" cy="807.2" r="3"/><circle cx="495.3" cy="808.3" r="3"/><circle cx="492.1" cy="808" r="3"/><circle cx="489.6" cy="811.3" r="3"/><circle cx="493.7" cy="813.1" r="3"/><circle cx="493.5" cy="814.1" r="3"/><circle cx="492.4" cy="813.1" r="3"/><circle cx="491.8" cy="816.4" r="3"/><circle cx="491.2" cy="816.2" r="3"/><circle cx="491" cy="818.5" r="3"/><circle cx="494.1" cy="820.2" r="3"/><circle cx="494" cy="821.8" r="3"/><circle cx="493.2" cy="822.1" r="3"/><circle cx="490.7" cy="825.9" r="3"/><circle cx="494.7" cy="825.5" r="3"/><circle cx="492.9" cy="828.4" r="3"/><circle cx="490.4" cy="827.6" r="3"/><circle cx="492.5" cy="830" r="3"/><circle cx="491.1" cy="832.2" r="3"/><circle cx="491.1" cy="831.7" r="3"/><circle cx="491.5" cy="835.8" r="3"/><circle cx="493" cy="834.5" r="3"/><circle cx="491.7" cy="836.9" r="3"/><circle cx="492.6" cy="838.6" r="3"/><circle cx="494" cy="841.6" r="3"/><circle cx="496" cy="737.8" r="3"/><circle cx="492" cy="747.7" r="3"/></g>
<g fill="#EC2C20"><circle cx="578.1" cy="774.9" r="3"/><circle cx="578.6" cy="776.4" r="3"/><circle cx="578.2" cy="778.9" r="3"/><circle cx="575.3" cy="777.7" r="3"/><circle cx="577.3" cy="781" r="3"/><circle cx="577.6" cy="779.9" r="3"/><circle cx="579.1" cy="783" r="3"/><circle cx="575.9" cy="782.5" r="3"/><circle cx="576.9" cy="786.1" r="3"/><circle cx="577.9" cy="786" r="3"/><circle cx="578.9" cy="786.1" r="3"/><circle cx="576.4" cy="788.2" r="3"/><circle cx="578" cy="790.5" r="3"/><circle cx="579" cy="790.8" r="3"/><circle cx="577.6" cy="792.4" r="3"/><circle cx="576.2" cy="792.8" r="3"/><circle cx="577.6" cy="791.8" r="3"/><circle cx="579.3" cy="793.9" r="3"/><circle cx="575.5" cy="793.3" r="3"/><circle cx="576.3" cy="795.7" r="3"/><circle cx="576.5" cy="795.1" r="3"/><circle cx="575.5" cy="796.6" r="3"/><circle cx="578.2" cy="798.2" r="3"/><circle cx="579.6" cy="797.2" r="3"/><circle cx="578.1" cy="799.6" r="3"/><circle cx="578.6" cy="799" r="3"/><circle cx="579.7" cy="798.8" r="3"/><circle cx="575.9" cy="801" r="3"/><circle cx="579.8" cy="800.9" r="3"/><circle cx="575.8" cy="802" r="3"/><circle cx="580.3" cy="803.2" r="3"/><circle cx="577.8" cy="805.4" r="3"/><circle cx="577.6" cy="806.1" r="3"/><circle cx="580.3" cy="806.8" r="3"/><circle cx="578.6" cy="806.5" r="3"/><circle cx="575.7" cy="807.5" r="3"/><circle cx="577.8" cy="806.5" r="3"/><circle cx="577" cy="807.7" r="3"/><circle cx="576.4" cy="810.6" r="3"/><circle cx="578.6" cy="811.3" r="3"/><circle cx="577.1" cy="812.3" r="3"/><circle cx="578.9" cy="810.5" r="3"/><circle cx="575.8" cy="814" r="3"/><circle cx="575.9" cy="813.2" r="3"/><circle cx="576.7" cy="815.1" r="3"/><circle cx="578.7" cy="814.4" r="3"/><circle cx="577" cy="814.9" r="3"/><circle cx="578.5" cy="816.8" r="3"/><circle cx="578.8" cy="816.1" r="3"/><circle cx="580.6" cy="816.8" r="3"/><circle cx="578.8" cy="819.7" r="3"/><circle cx="577.5" cy="820.9" r="3"/><circle cx="577" cy="822.1" r="3"/><circle cx="576.9" cy="823.3" r="3"/><circle cx="576.3" cy="824.3" r="3"/><circle cx="579.9" cy="825" r="3"/><circle cx="577.4" cy="826.1" r="3"/><circle cx="578.6" cy="826.2" r="3"/><circle cx="576.9" cy="829.6" r="3"/><circle cx="578.7" cy="829.4" r="3"/><circle cx="578" cy="737.8" r="3"/><circle cx="578" cy="744" r="3"/><circle cx="578" cy="757.2" r="3"/><circle cx="577" cy="762" r="3"/><circle cx="579" cy="763.8" r="3"/><circle cx="578" cy="770" r="3"/><circle cx="578" cy="843.2" r="3"/></g>
<g fill="#EC2C20"><circle cx="717.6" cy="748.3" r="3"/><circle cx="715.9" cy="747.9" r="3"/><circle cx="715.7" cy="749.7" r="3"/><circle cx="713.3" cy="751.5" r="3"/><circle cx="716.1" cy="753.7" r="3"/><circle cx="716.3" cy="753.2" r="3"/><circle cx="717.4" cy="755.6" r="3"/><circle cx="715.5" cy="756" r="3"/><circle cx="718.3" cy="759.2" r="3"/><circle cx="714.3" cy="761" r="3"/><circle cx="718" cy="760.7" r="3"/><circle cx="714.9" cy="763.2" r="3"/><circle cx="715.9" cy="765.4" r="3"/><circle cx="715.1" cy="764.6" r="3"/><circle cx="715.5" cy="768.3" r="3"/><circle cx="718.2" cy="767" r="3"/><circle cx="715.9" cy="768.4" r="3"/><circle cx="715.7" cy="768.2" r="3"/><circle cx="713.1" cy="770.9" r="3"/><circle cx="715.1" cy="770.4" r="3"/><circle cx="714.1" cy="770.5" r="3"/><circle cx="714.4" cy="770.9" r="3"/><circle cx="713.7" cy="772.9" r="3"/><circle cx="716.9" cy="772.1" r="3"/><circle cx="714.7" cy="773.2" r="3"/><circle cx="715.9" cy="774.7" r="3"/><circle cx="716.5" cy="775.4" r="3"/><circle cx="713.7" cy="777" r="3"/><circle cx="716.4" cy="777.6" r="3"/><circle cx="714.3" cy="777.2" r="3"/><circle cx="717.3" cy="777.6" r="3"/><circle cx="716.8" cy="779.8" r="3"/><circle cx="714.9" cy="779.5" r="3"/><circle cx="714.3" cy="779.6" r="3"/><circle cx="719.1" cy="781.9" r="3"/><circle cx="714.7" cy="781.5" r="3"/><circle cx="718.7" cy="781.4" r="3"/><circle cx="715.9" cy="783.5" r="3"/><circle cx="718" cy="784" r="3"/><circle cx="717.4" cy="785.3" r="3"/><circle cx="717.2" cy="784.9" r="3"/><circle cx="716.3" cy="785.1" r="3"/><circle cx="715.6" cy="787.3" r="3"/><circle cx="713.8" cy="787.1" r="3"/><circle cx="717.2" cy="786.1" r="3"/><circle cx="715.8" cy="787" r="3"/><circle cx="715.9" cy="787.5" r="3"/><circle cx="718" cy="787.8" r="3"/><circle cx="715.1" cy="788.4" r="3"/><circle cx="715.9" cy="790.9" r="3"/><circle cx="717.8" cy="789.7" r="3"/><circle cx="717.8" cy="791.4" r="3"/><circle cx="715" cy="791.8" r="3"/><circle cx="716" cy="792.8" r="3"/><circle cx="716.1" cy="794.7" r="3"/><circle cx="715.6" cy="794.1" r="3"/><circle cx="715.7" cy="796.4" r="3"/><circle cx="716.2" cy="796.9" r="3"/><circle cx="715.2" cy="800.6" r="3"/><circle cx="717.7" cy="802.4" r="3"/><circle cx="715.5" cy="803.2" r="3"/><circle cx="718" cy="804.8" r="3"/><circle cx="716.6" cy="805.1" r="3"/><circle cx="715.5" cy="808.4" r="3"/><circle cx="713.3" cy="808.1" r="3"/><circle cx="714.3" cy="812.1" r="3"/><circle cx="715.2" cy="812.1" r="3"/><circle cx="715.1" cy="812.8" r="3"/><circle cx="713.8" cy="815.5" r="3"/><circle cx="717.3" cy="816.8" r="3"/><circle cx="715.7" cy="817.7" r="3"/><circle cx="714.1" cy="820.5" r="3"/><circle cx="717.3" cy="821.2" r="3"/><circle cx="718.7" cy="824.9" r="3"/><circle cx="716.9" cy="825" r="3"/><circle cx="718.1" cy="826.4" r="3"/><circle cx="716.1" cy="829.2" r="3"/><circle cx="716" cy="717.5" r="3"/><circle cx="717" cy="722" r="3"/><circle cx="714" cy="730.2" r="3"/><circle cx="716" cy="735" r="3"/><circle cx="713" cy="739.4" r="3"/><circle cx="716" cy="850.6" r="3"/></g>
<rect x="471.9" y="779.2" width="13" height="27.2" fill="none" stroke="#000" stroke-width="1.9"/>
<line x1="471.9" y1="793" x2="484.9" y2="793" stroke="#000" stroke-width="4.4"/>
<rect x="486.5" y="783" width="13" height="18.5" fill="none" stroke="#000" stroke-width="1.9"/>
<line x1="486.5" y1="795" x2="499.5" y2="795" stroke="#000" stroke-width="4.4"/>
<line x1="493" y1="768.7" x2="493" y2="783" stroke="#000" stroke-width="1.9" stroke-dasharray="5 4"/>
<line x1="489" y1="768.7" x2="497" y2="768.7" stroke="#000" stroke-width="1.9"/>
<line x1="493" y1="801.5" x2="493" y2="844.2" stroke="#000" stroke-width="1.9" stroke-dasharray="5 4"/>
<line x1="489" y1="844.2" x2="497" y2="844.2" stroke="#000" stroke-width="1.9"/>
<rect x="558" y="791" width="13" height="29.5" fill="none" stroke="#000" stroke-width="1.9"/>
<line x1="558" y1="808" x2="571" y2="808" stroke="#000" stroke-width="4.4"/>
<line x1="564.5" y1="820.5" x2="564.5" y2="872" stroke="#000" stroke-width="1.9" stroke-dasharray="5 4"/>
<line x1="560.5" y1="872" x2="568.5" y2="872" stroke="#000" stroke-width="1.9"/>
<rect x="571.3" y="789.3" width="13" height="30.2" fill="none" stroke="#000" stroke-width="1.9"/>
<line x1="571.3" y1="805.6" x2="584.3" y2="805.6" stroke="#000" stroke-width="4.4"/>
<line x1="577.8" y1="772.9" x2="577.8" y2="789.3" stroke="#000" stroke-width="1.9" stroke-dasharray="5 4"/>
<line x1="573.8" y1="772.9" x2="581.8" y2="772.9" stroke="#000" stroke-width="1.9"/>
<line x1="577.8" y1="819.5" x2="577.8" y2="839.4" stroke="#000" stroke-width="1.9" stroke-dasharray="5 4"/>
<line x1="573.8" y1="839.4" x2="581.8" y2="839.4" stroke="#000" stroke-width="1.9"/>
<rect x="696.2" y="768.4" width="13" height="28.9" fill="none" stroke="#000" stroke-width="1.9"/>
<line x1="696.2" y1="784" x2="709.2" y2="784" stroke="#000" stroke-width="4.4"/>
<line x1="702.7" y1="797.3" x2="702.7" y2="858" stroke="#000" stroke-width="1.9" stroke-dasharray="5 4"/>
<line x1="698.7" y1="858" x2="706.7" y2="858" stroke="#000" stroke-width="1.9"/>
<rect x="709.4" y="768.4" width="13" height="25.4" fill="none" stroke="#000" stroke-width="1.9"/>
<line x1="709.4" y1="783.4" x2="722.4" y2="783.4" stroke="#000" stroke-width="4.4"/>
<line x1="715.9" y1="756.8" x2="715.9" y2="768.4" stroke="#000" stroke-width="1.9" stroke-dasharray="5 4"/>
<line x1="711.9" y1="756.8" x2="719.9" y2="756.8" stroke="#000" stroke-width="1.9"/>
<line x1="715.9" y1="793.8" x2="715.9" y2="849.4" stroke="#000" stroke-width="1.9" stroke-dasharray="5 4"/>
<line x1="711.9" y1="849.4" x2="719.9" y2="849.4" stroke="#000" stroke-width="1.9"/>
<polyline points="478.4,806 564.5,793.5 702.7,784.5" fill="none" stroke="#000" stroke-width="4.2" stroke-linejoin="round"/>
<polyline points="493,806.5 577.8,795.5 715.9,784" fill="none" stroke="#EC2C20" stroke-width="4.2" stroke-linecap="round" stroke-dasharray="10 19"/>
<line x1="585.8" y1="692" x2="611.5" y2="692" stroke="#000" stroke-width="3.5" stroke-linecap="round"/>
<rect x="595.6" y="688.8" width="6.4" height="6.4" fill="#000"/>
<line x1="585.8" y1="709.3" x2="599" y2="709.3" stroke="#EC2C20" stroke-width="3.5" stroke-linecap="round"/>
<circle cx="599" cy="709.3" r="3.2" fill="#EC2C20"/>
<text class="lg" x="625" y="697.8">Placebo (n=103)</text>
<text class="lg" x="625" y="714.9">Epo (n=108)</text>
</svg></body></html>
